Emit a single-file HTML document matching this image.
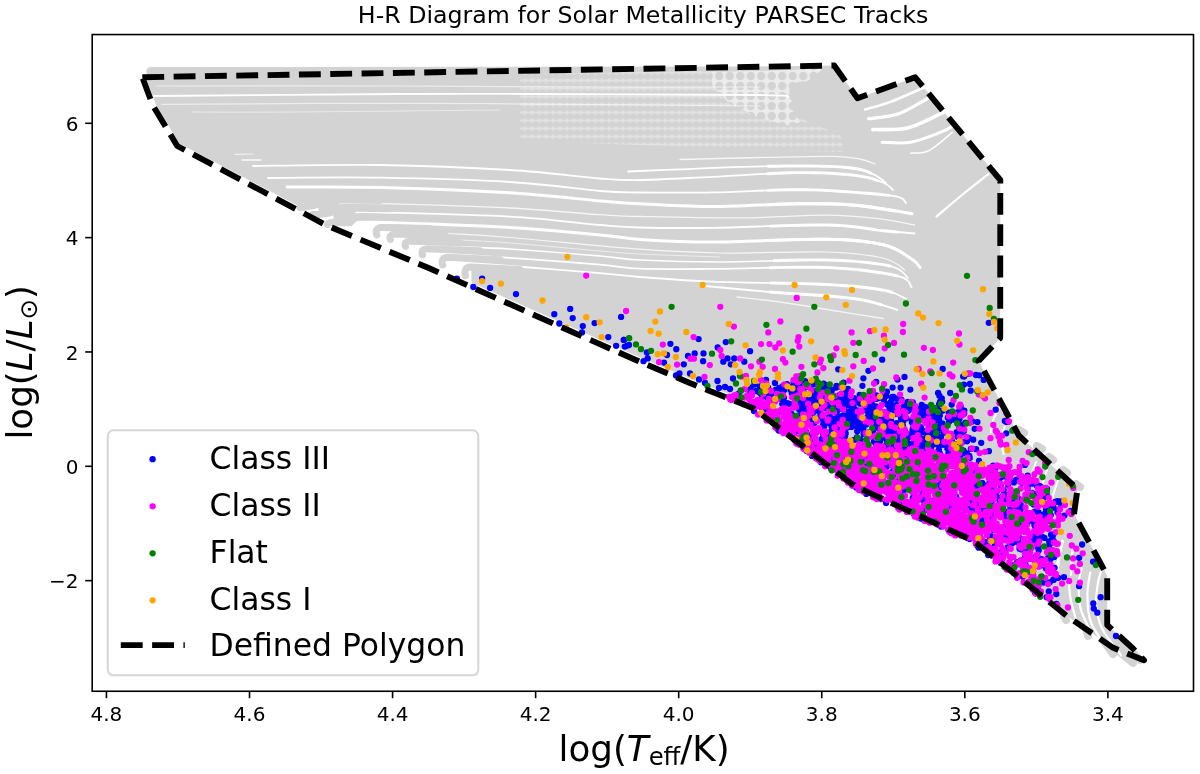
<!DOCTYPE html><html><head><meta charset="utf-8"><title>H-R Diagram</title><style>html,body{margin:0;padding:0;background:#fff;overflow:hidden}svg{display:block;-webkit-font-smoothing:antialiased;will-change:transform}</style></head><body><svg width="1200" height="774" viewBox="0 0 1200 774" font-family="'DejaVu Sans', 'Liberation Sans', sans-serif" fill="#000"><polygon points="145.8,77.2 834.2,65.5 857.5,98.3 915.2,77.3 1000.3,180.0 1000.2,338.0 978.6,361.0 1019.0,435.8 1077.5,489.0 1074.0,514.0 1102.0,566.0 1107.2,576.0 1107.2,625.0 1133.0,648.5 1144.0,660.3 1112.8,647.6 1067.3,616.3 973.6,541.0 854.6,486.0 753.8,404.0 689.2,378.2 637.5,356.2 570.7,326.8 428.7,263.5 327.0,221.1 179.3,143.5 156.1,105.0" fill="#d3d3d3"/>
<path d="M150.5 71.4L830 70.6" stroke="#d3d3d3" stroke-width="8.6" stroke-linecap="round"/>
<polygon points="150,71 834,68 834,78 150,82" fill="#d3d3d3"/>
<path d="M1019.0 430.0L1024.0 433.0" stroke="#d3d3d3" stroke-width="8" fill="none" stroke-linecap="round"/>
<path d="M1037.0 446.0L1042.0 449.0" stroke="#d3d3d3" stroke-width="8" fill="none" stroke-linecap="round"/>
<path d="M1049.0 457.0L1053.0 460.0" stroke="#d3d3d3" stroke-width="8" fill="none" stroke-linecap="round"/>
<path d="M1063.0 470.0L1067.0 473.0" stroke="#d3d3d3" stroke-width="8" fill="none" stroke-linecap="round"/>
<path d="M1076.0 484.0L1080.0 487.0" stroke="#d3d3d3" stroke-width="8" fill="none" stroke-linecap="round"/>
<path d="M1062.0 605.0C1062.3 606.8 1063.3 613.5 1064.0 616.0C1064.7 618.5 1065.7 619.3 1066.0 620.0" stroke="#d3d3d3" stroke-width="8" fill="none" stroke-linecap="round"/>
<path d="M1085.0 625.0L1088.0 636.0" stroke="#d3d3d3" stroke-width="8" fill="none" stroke-linecap="round"/>
<path d="M1103.0 640.0L1113.0 654.0" stroke="#d3d3d3" stroke-width="8" fill="none" stroke-linecap="round"/>
<path d="M1115.0 648.0L1133.0 663.0" stroke="#d3d3d3" stroke-width="8" fill="none" stroke-linecap="round"/>
<path d="M1135.0 655.0L1140.0 660.0" stroke="#d3d3d3" stroke-width="8" fill="none" stroke-linecap="round"/>
<defs><pattern id="pd" x="0" y="1" width="10.5" height="10" patternUnits="userSpaceOnUse"><rect width="10.5" height="10" fill="#ececec"/><circle cx="5.25" cy="5" r="4.2" fill="#d3d3d3"/></pattern><pattern id="pr" x="0" y="0.5" width="7" height="8" patternUnits="userSpaceOnUse"><rect width="7" height="8" fill="#e2e2e2"/><ellipse cx="3.5" cy="4" rx="3.7" ry="3.2" fill="#d3d3d3"/></pattern></defs>
<polygon points="520,74 700,71 720,71 760,100 800,118 840,135 845,152 760,150 660,146 560,142 520,138" fill="url(#pr)"/>
<polygon points="712,72 790,70 824,68 812,78 796,88 790,106 800,122 790,126 760,118 730,104 712,86" fill="url(#pd)"/>
<ellipse cx="822" cy="104" rx="36" ry="17" transform="rotate(28 822 104)" fill="#d3d3d3"/>
<path d="M253.0 166.0C274.2 165.8 337.2 164.3 380.0 165.0C422.8 165.7 473.3 167.8 510.0 170.0C546.7 172.2 578.3 176.8 600.0 178.5C621.7 180.2 621.2 180.3 640.0 180.0C658.8 179.7 686.7 178.0 713.0 176.8C739.3 175.6 774.3 172.8 798.0 172.6C821.7 172.4 840.8 173.8 855.0 175.4C869.2 177.1 876.7 180.1 883.0 182.5C889.3 184.9 891.3 188.8 893.0 190.0" stroke="#fff" stroke-width="1.8" fill="none" stroke-linecap="round"/>
<path d="M268.0 178.0C286.7 177.9 339.7 177.0 380.0 177.7C420.3 178.4 473.3 179.8 510.0 182.0C546.7 184.2 578.3 189.2 600.0 191.0C621.7 192.8 621.2 192.3 640.0 192.5C658.8 192.7 686.7 192.9 713.0 192.4C739.3 191.9 774.3 189.6 798.0 189.6C821.7 189.6 838.5 191.2 855.0 192.4C871.5 193.6 888.5 194.9 897.0 196.7C905.5 198.5 904.5 201.9 906.0 203.0" stroke="#fff" stroke-width="1.8" fill="none" stroke-linecap="round"/>
<path d="M287.0 187.0C302.5 187.1 342.8 186.4 380.0 187.4C417.2 188.4 473.3 190.6 510.0 192.8C546.7 195.1 578.3 199.1 600.0 200.9C621.7 202.7 621.2 202.8 640.0 203.7C658.8 204.6 686.7 206.6 713.0 206.6C739.3 206.6 774.3 204.0 798.0 203.8C821.7 203.6 836.0 203.5 855.0 205.2C874.0 206.8 902.5 212.3 912.0 213.7" stroke="#fff" stroke-width="3.0" fill="none" stroke-linecap="round"/>
<path d="M340.0 203.5C346.7 203.5 351.7 202.9 380.0 203.7C408.3 204.4 473.3 206.2 510.0 208.0C546.7 209.8 578.3 213.3 600.0 214.7C621.7 216.1 616.4 216.0 640.0 216.5C663.6 217.0 710.6 218.1 741.7 217.9C772.8 217.7 803.1 214.9 826.7 215.1C850.3 215.3 868.8 217.7 883.4 219.3C898.0 221.0 909.3 224.1 914.5 225.0" stroke="#fff" stroke-width="1.3" stroke-opacity="0.8" fill="none" stroke-linecap="round"/>
<path d="M356.0 212.3C360.0 212.3 354.3 211.8 380.0 212.5C405.7 213.2 473.3 214.6 510.0 216.7C546.7 218.8 578.3 223.2 600.0 225.0C621.7 226.8 621.2 227.0 640.0 227.5C658.8 228.0 681.9 228.2 713.0 227.8C744.1 227.4 798.3 224.5 826.7 225.0C855.1 225.5 868.8 229.3 883.4 230.7C898.0 232.1 909.3 233.0 914.5 233.5" stroke="#fff" stroke-width="1.8" fill="none" stroke-linecap="round"/>
<path d="M371.0 221.8C372.5 221.9 356.8 221.2 380.0 222.2C403.2 223.1 473.3 225.4 510.0 227.5C546.7 229.6 578.3 232.9 600.0 234.9C621.7 236.9 621.2 238.2 640.0 239.4C658.8 240.6 681.9 242.0 713.0 242.0C744.1 242.0 798.3 238.7 826.7 239.2C855.1 239.7 869.2 241.5 883.4 244.8C897.6 248.1 905.6 255.2 911.7 259.0C917.8 262.8 918.6 266.1 920.0 267.5" stroke="#fff" stroke-width="3.0" fill="none" stroke-linecap="round"/>
<path d="M386.0 230.8C396.7 231.2 429.3 232.4 450.0 233.5C470.7 234.6 478.3 234.9 510.0 237.5C541.7 240.1 605.0 246.6 640.0 249.2C675.0 251.8 689.0 252.5 720.0 253.0C751.0 253.5 798.8 251.2 826.0 252.0C853.2 252.8 869.8 255.0 883.0 258.0C896.2 261.0 901.3 268.0 905.0 270.0" stroke="#fff" stroke-width="1.2" stroke-opacity="0.8" fill="none" stroke-linecap="round"/>
<path d="M401.0 237.6C409.2 237.9 431.8 238.6 450.0 239.5C468.2 240.4 485.0 241.1 510.0 243.0C535.0 244.9 578.3 249.2 600.0 251.0C621.7 252.8 620.0 253.0 640.0 254.0C660.0 255.0 706.7 256.5 720.0 257.0" stroke="#fff" stroke-width="1.0" stroke-opacity="0.6" fill="none" stroke-linecap="round"/>
<path d="M418.0 245.0C423.3 245.2 434.7 245.8 450.0 246.5C465.3 247.2 485.0 247.4 510.0 249.0C535.0 250.6 578.3 254.2 600.0 256.0C621.7 257.8 620.0 259.0 640.0 260.0C660.0 261.0 689.0 262.0 720.0 262.0C751.0 262.0 797.7 259.3 826.0 260.0C854.3 260.7 876.3 263.0 890.0 266.0C903.7 269.0 905.0 276.0 908.0 278.0" stroke="#fff" stroke-width="1.6" fill="none" stroke-linecap="round"/>
<path d="M438.0 253.2C450.0 254.0 483.0 255.9 510.0 257.8C537.0 259.7 578.3 262.9 600.0 264.7C621.7 266.5 621.2 268.0 640.0 268.7C658.8 269.4 681.9 269.1 713.0 268.9C744.1 268.7 796.0 266.3 826.7 267.5C857.5 268.7 883.3 272.7 897.5 276.0C911.7 279.3 909.3 285.4 911.7 287.3" stroke="#fff" stroke-width="1.8" fill="none" stroke-linecap="round"/>
<path d="M461.0 262.3C469.2 262.9 486.8 264.2 510.0 266.0C533.2 267.8 578.3 271.4 600.0 273.2C621.7 275.0 621.2 275.6 640.0 277.0C658.8 278.4 681.9 280.4 713.0 281.7C744.1 282.9 798.3 283.1 826.7 284.5C855.1 285.9 870.2 287.8 883.4 290.2C896.6 292.6 902.2 297.3 906.0 298.7" stroke="#fff" stroke-width="1.8" fill="none" stroke-linecap="round"/>
<path d="M700.0 285.5C711.7 286.6 744.2 289.8 770.0 292.0C795.8 294.2 833.8 295.7 855.0 298.7C876.2 301.7 890.4 308.1 897.5 310.0" stroke="#fff" stroke-width="1.8" fill="none" stroke-linecap="round"/>
<path d="M737.0 297.0C744.2 297.8 764.5 299.8 780.0 302.0C795.5 304.2 812.8 307.2 830.0 310.0C847.2 312.8 874.5 317.1 883.4 318.5" stroke="#fff" stroke-width="1.4" stroke-opacity="0.75" fill="none" stroke-linecap="round"/>
<path d="M154.0 96.0C195.0 95.7 337.3 94.3 400.0 94.0C462.7 93.7 470.0 93.8 530.0 94.0C590.0 94.2 717.0 94.4 760.0 95.0C803.0 95.6 783.3 97.1 788.0 97.5" stroke="#fff" stroke-width="1.8" fill="none" stroke-linecap="round"/>
<path d="M157.0 86.0C197.5 86.0 326.2 85.8 400.0 86.0C473.8 86.2 540.0 86.8 600.0 87.0C660.0 87.2 733.3 87.0 760.0 87.0" stroke="#fff" stroke-width="1.2" stroke-opacity="0.6" fill="none" stroke-linecap="round"/>
<path d="M162.0 104.4C201.7 104.2 318.7 103.2 400.0 103.3C481.3 103.4 590.0 104.5 650.0 105.0C710.0 105.5 741.7 105.8 760.0 106.0" stroke="#fff" stroke-width="1.2" stroke-opacity="0.6" fill="none" stroke-linecap="round"/>
<path d="M192.0 112.0C208.7 112.0 240.7 112.3 292.0 112.0C343.3 111.7 465.3 110.3 500.0 110.0" stroke="#fff" stroke-width="1.0" stroke-opacity="0.5" fill="none" stroke-linecap="round"/>
<path d="M235.0 154.3L253.0 154.0" stroke="#fff" stroke-width="1.2" stroke-opacity="0.7" fill="none" stroke-linecap="round"/>
<path d="M242.0 160.0L261.0 160.0" stroke="#fff" stroke-width="1.4" stroke-opacity="0.9" fill="none" stroke-linecap="round"/>
<path d="M865.2 109.5C869.4 108.2 880.6 105.6 890.4 101.9C900.2 98.2 918.4 90.0 924.0 87.6" stroke="#fff" stroke-width="2.6" fill="none" stroke-linecap="round"/>
<path d="M868.6 118.7C873.6 117.9 889.0 117.1 898.8 113.7C908.6 110.3 922.6 101.1 927.4 98.6" stroke="#fff" stroke-width="3.2" fill="none" stroke-linecap="round"/>
<path d="M872.8 129.6C878.5 129.3 895.9 130.7 907.2 128.0C918.5 125.3 933.8 116.7 940.8 113.7C947.8 110.8 947.8 110.9 949.2 110.3" stroke="#fff" stroke-width="3.6" fill="none" stroke-linecap="round"/>
<path d="M882.0 142.2C886.8 142.2 900.8 143.9 910.6 142.2C920.4 140.5 933.5 135.0 940.8 132.2C948.1 129.4 952.0 126.5 954.2 125.4" stroke="#fff" stroke-width="3.0" fill="none" stroke-linecap="round"/>
<path d="M910.6 153.2C913.7 152.8 922.0 154.1 929.0 150.6C936.0 147.1 948.6 135.3 952.5 132.2" stroke="#fff" stroke-width="1.5" fill="none" stroke-linecap="round"/>
<path d="M936.5 216.5C940.8 212.9 953.3 202.1 962.0 195.0C970.7 187.9 984.1 177.5 988.5 174.0" stroke="#fff" stroke-width="2.2" fill="none" stroke-linecap="round"/>
<path d="M628.0 171.5C636.7 171.1 661.0 170.1 680.0 169.3C699.0 168.5 720.0 167.5 741.7 166.9C763.4 166.3 791.5 165.8 810.0 166.0C828.5 166.2 842.2 166.7 853.0 168.2C863.8 169.7 869.5 172.5 875.0 175.0C880.5 177.5 884.2 181.9 886.0 183.3" stroke="#fff" stroke-width="1.8" fill="none" stroke-linecap="round"/>
<path d="M680.0 159.5C693.3 159.2 734.7 158.0 760.0 157.5C785.3 157.0 815.0 156.1 831.7 156.3C848.4 156.6 852.8 157.7 860.0 159.0C867.2 160.3 872.5 163.2 875.0 164.0" stroke="#fff" stroke-width="1.3" stroke-opacity="0.8" fill="none" stroke-linecap="round"/>
<path d="M1001.6 405.2C1000.3 407.3 995.8 413.5 994.0 418.0C992.2 422.5 991.2 429.9 990.7 432.3" stroke="#fff" stroke-width="2.0" fill="none" stroke-linecap="round"/>
<path d="M1010.6 414.0C1009.1 417.7 1002.8 429.3 1001.6 436.0C1000.4 442.7 1003.1 451.0 1003.4 454.0" stroke="#fff" stroke-width="2.0" fill="none" stroke-linecap="round"/>
<path d="M1062.5 541.0C1061.9 543.5 1059.9 550.8 1059.0 556.0C1058.1 561.2 1057.3 569.3 1057.0 572.0" stroke="#fff" stroke-width="3.0" fill="none" stroke-linecap="round"/>
<path d="M1073.0 547.0C1072.8 549.2 1071.8 555.3 1071.5 560.0C1071.2 564.7 1071.1 572.5 1071.0 575.0" stroke="#fff" stroke-width="2.2" fill="none" stroke-linecap="round"/>
<path d="M1041.5 538.0L1040.5 548.0" stroke="#fff" stroke-width="2.0" fill="none" stroke-linecap="round"/>
<path d="M1036.0 462.0C1035.0 465.0 1031.2 473.7 1030.0 480.0C1028.8 486.3 1028.5 493.3 1029.0 500.0C1029.5 506.7 1032.3 516.7 1033.0 520.0" stroke="#fff" stroke-width="2.0" fill="none" stroke-linecap="round"/>
<path d="M1047.0 470.0C1046.0 473.3 1042.2 483.3 1041.0 490.0C1039.8 496.7 1039.5 503.3 1040.0 510.0C1040.5 516.7 1043.3 526.7 1044.0 530.0" stroke="#fff" stroke-width="2.0" fill="none" stroke-linecap="round"/>
<path d="M1058.0 480.0C1057.0 483.3 1053.2 493.3 1052.0 500.0C1050.8 506.7 1051.2 516.7 1051.0 520.0" stroke="#fff" stroke-width="2.0" fill="none" stroke-linecap="round"/>
<path d="M1069.0 583.9C1069.3 586.8 1069.4 593.9 1071.0 601.3C1072.6 608.7 1077.4 623.9 1078.7 628.4" stroke="#fff" stroke-width="2.2" fill="none" stroke-linecap="round"/>
<path d="M1081.6 568.4C1081.1 571.0 1078.8 577.1 1078.7 583.9C1078.6 590.7 1078.6 601.0 1080.7 609.1C1082.8 617.2 1089.5 628.4 1091.3 632.3" stroke="#fff" stroke-width="2.2" fill="none" stroke-linecap="round"/>
<path d="M1090.3 572.3C1089.8 575.8 1087.4 585.5 1087.4 593.6C1087.4 601.7 1087.5 612.3 1090.3 620.7C1093.0 629.1 1101.6 640.0 1103.9 643.9" stroke="#fff" stroke-width="2.2" fill="none" stroke-linecap="round"/>
<path d="M1102.0 568.4C1101.3 570.7 1099.1 575.9 1098.1 582.0C1097.1 588.1 1095.5 597.5 1096.2 605.2C1096.9 612.9 1097.8 620.0 1102.0 628.4C1106.2 636.8 1118.1 651.1 1121.3 655.6" stroke="#fff" stroke-width="2.2" fill="none" stroke-linecap="round"/>
<path d="M767.6 173.7L778.4 173.2L788.6 172.8L798.0 172.6L806.7 172.6L814.9 172.7L822.7 172.9L830.1 173.3L837.0 173.7L843.4 174.2L849.5 174.8L855.0 175.4L860.0 176.1L864.5 176.9L868.4 177.7L871.9 178.7L875.1 179.6L877.9 180.6" stroke="#fff" stroke-width="2.9" fill="none" stroke-linecap="round"/>
<path d="M767.6 190.4L778.4 190.0L788.6 189.7L798.0 189.6L806.6 189.7L814.6 189.9L822.1 190.2L829.2 190.6L836.0 191.0L842.5 191.5L848.8 191.9L855.0 192.4L861.2 192.9L867.3 193.3L873.3 193.8L879.0 194.3L884.3 194.9L889.2 195.4" stroke="#fff" stroke-width="2.9" fill="none" stroke-linecap="round"/>
<path d="M767.6 204.8L778.4 204.3L788.6 204.0L798.0 203.8L806.5 203.7L814.2 203.7L821.4 203.7L828.2 203.8L834.9 204.0L841.4 204.3L848.1 204.7L855.0 205.2L862.5 206.0L870.6 207.0L878.9 208.2L887.1 209.5L894.8 210.8" stroke="#fff" stroke-width="2.9" fill="none" stroke-linecap="round"/>
<path d="M770.9 226.1L786.4 225.6L801.3 225.2L814.9 225.0L826.7 225.0L836.7 225.3L845.5 225.9L853.3 226.6L860.2 227.5L866.5 228.4L872.4 229.3L877.9 230.1L883.4 230.7L888.7 231.2L893.7 231.7L898.3 232.1" stroke="#fff" stroke-width="2.9" fill="none" stroke-linecap="round"/>
<path d="M770.9 240.4L786.4 239.9L801.3 239.4L814.9 239.2L826.7 239.2L836.7 239.4L845.5 239.8L853.4 240.3L860.4 240.9L866.7 241.7L872.6 242.6L878.1 243.6L883.4 244.8L888.4 246.2L892.9 247.9L897.0 249.7L900.6 251.7L903.8 253.7" stroke="#fff" stroke-width="2.9" fill="none" stroke-linecap="round"/>
<path d="M774.0 260.8L788.2 260.3L801.8 260.0L814.6 259.9L826.0 260.0L836.3 260.3L846.0 260.8L855.1 261.4L863.5 262.1L871.2 263.0L878.2 263.9L884.5 264.9L890.0 266.0" stroke="#fff" stroke-width="2.9" fill="none" stroke-linecap="round"/>
<path d="M770.0 267.7L785.4 267.4L800.3 267.2L814.3 267.2L826.7 267.5L838.0 268.1L848.7 268.9L858.9 269.8L868.3 271.0L877.0 272.2L884.8 273.4L891.7 274.7L897.5 276.0" stroke="#fff" stroke-width="2.9" fill="none" stroke-linecap="round"/>
<path d="M770.9 283.0L786.4 283.3L801.3 283.6L814.9 284.0L826.7 284.5L836.7 285.1L845.7 285.7L853.6 286.3L860.7 287.0L867.1 287.7L873.0 288.5L878.3 289.3L883.4 290.2L888.0 291.2L892.0 292.3" stroke="#fff" stroke-width="2.9" fill="none" stroke-linecap="round"/>
<path d="M770.0 292.0L780.2 292.8L791.2 293.6L802.6 294.3L814.2 295.0L825.6 295.8L836.4 296.7L846.3 297.6L855.0 298.7L862.6 300.0L869.6 301.5L875.9 303.1L881.6 304.8" stroke="#fff" stroke-width="2.9" fill="none" stroke-linecap="round"/>
<path d="M767.9 166.3L777.0 166.2L786.0 166.0L794.5 166.0L802.6 166.0L810.0 166.0L816.7 166.1L823.0 166.2L828.9 166.4L834.4 166.6L839.5 166.9L844.3 167.3L848.8 167.7L853.0 168.2L856.8 168.8L860.2 169.5L863.3 170.3L866.0 171.2L868.5 172.1L870.8 173.1" stroke="#fff" stroke-width="2.9" fill="none" stroke-linecap="round"/>
<polygon points="301.5,203.7 303.0,203.7 304.6,203.7 306.1,203.7 307.7,203.7 309.2,203.7 310.8,203.7 312.3,203.7 313.9,203.7 315.4,203.7 317.0,203.7 318.5,203.7 318.5,224.6 301.5,215.5" fill="#fff"/>
<polygon points="314.0,211.7 315.8,211.7 317.5,211.7 319.3,211.7 321.1,211.7 322.9,211.7 324.6,211.7 326.4,211.7 328.2,211.7 330.0,211.7 331.7,211.7 333.5,211.7 333.5,231.8 314.0,222.2" fill="#fff"/>
<polygon points="329.0,225.7 333.9,225.7 338.8,225.8 343.7,225.9 348.6,226.0 353.5,222.4 358.3,220.5 363.2,220.2 368.1,220.3 373.0,220.4 377.9,220.5 382.8,220.6 382.8,252.4 329.0,229.9" fill="#fff"/>
<polygon points="378.3,230.6 379.9,230.6 381.6,230.6 383.2,230.7 384.9,230.7 386.5,230.7 388.2,230.8 389.8,230.8 391.5,230.9 393.1,230.9 394.8,230.9 396.4,231.0 396.4,258.0 378.3,250.5" fill="#fff"/>
<polygon points="391.9,237.2 393.7,237.2 395.5,237.2 397.2,237.3 399.0,237.3 400.8,237.4 402.6,237.4 404.4,237.5 406.2,237.5 407.9,237.6 409.7,237.6 411.5,237.7 411.5,264.3 391.9,256.2" fill="#fff"/>
<polygon points="407.0,244.2 409.0,244.2 410.9,244.2 412.9,244.3 414.8,244.4 416.8,244.4 418.7,244.5 420.7,244.6 422.6,244.7 424.6,244.7 426.5,244.8 428.5,244.9 428.5,271.4 407.0,262.5" fill="#fff"/>
<polygon points="424.0,251.9 426.2,251.9 428.5,252.0 430.7,252.0 433.0,252.1 435.2,252.2 437.5,252.3 439.7,252.4 442.0,252.5 444.2,252.6 446.5,252.7 448.7,252.8 448.7,280.4 424.0,269.5" fill="#fff"/>
<polygon points="444.2,260.5 446.7,260.5 449.1,260.6 451.6,260.7 454.1,260.8 456.6,261.0 459.0,261.1 461.5,261.2 464.0,261.3 466.5,261.4 468.9,261.5 471.4,261.7 471.4,290.5 444.2,278.4" fill="#fff"/>
<path d="M300.0 207.5Q318.0 206.5 323.0 200.5L330.0 199.7L380.0 200.5" stroke="#d3d3d3" stroke-width="7.0" fill="none" stroke-linecap="round" stroke-linejoin="round"/>
<path d="M312.5 214.5Q333.0 214.5 338.0 208.5L344.0 207.9L390.0 208.8" stroke="#d3d3d3" stroke-width="7.0" fill="none" stroke-linecap="round" stroke-linejoin="round"/>
<path d="M327.5 224.5Q328.0 222.6 333.0 222.5L350.0 222.8L355.0 217.6L361.0 217.0L410.0 217.8" stroke="#d3d3d3" stroke-width="7.0" fill="none" stroke-linecap="round" stroke-linejoin="round"/>
<path d="M376.8 235.0Q374.5 228.5 381.0 227.4L430.0 228.6" stroke="#d3d3d3" stroke-width="7.0" fill="none" stroke-linecap="round" stroke-linejoin="round"/>
<path d="M390.4 239.5Q388.5 234.6 395.0 234.0L445.0 235.5" stroke="#d3d3d3" stroke-width="7.0" fill="none" stroke-linecap="round" stroke-linejoin="round"/>
<path d="M405.5 246.5Q403.5 241.6 410.0 241.0L460.0 242.8" stroke="#d3d3d3" stroke-width="7.0" fill="none" stroke-linecap="round" stroke-linejoin="round"/>
<path d="M422.5 255.0Q420.5 249.4 427.0 248.7L480.0 250.8" stroke="#d3d3d3" stroke-width="7.0" fill="none" stroke-linecap="round" stroke-linejoin="round"/>
<path d="M442.7 265.0Q440.7 258.0 447.0 257.3L500.0 259.8" stroke="#d3d3d3" stroke-width="7.0" fill="none" stroke-linecap="round" stroke-linejoin="round"/>
<path d="M465.4 275.7Q463.4 267.7 470.0 267.0L520.0 269.5" stroke="#d3d3d3" stroke-width="7.0" fill="none" stroke-linecap="round" stroke-linejoin="round"/>
<path d="M987.1 509.2h0M866.9 466.9h0M880.7 396.6h0M935.4 467.0h0M973.7 482.5h0M989.6 482.8h0M1017.0 493.8h0M926.6 407.4h0M869.9 399.0h0M1027.8 513.2h0M964.2 413.6h0M903.3 421.0h0M773.9 399.1h0M914.7 495.5h0M851.8 452.8h0M921.4 455.7h0M1052.5 538.1h0M1024.7 530.2h0M766.5 405.8h0M866.4 424.4h0M909.4 511.1h0M799.0 398.8h0M1038.4 512.2h0M998.7 498.9h0M921.5 453.4h0M917.9 467.4h0M770.4 392.4h0M828.0 390.5h0M875.2 464.6h0M979.6 488.6h0M887.9 488.9h0M958.2 518.8h0M823.1 424.9h0M940.1 401.6h0M1017.2 562.2h0M892.4 438.4h0M1048.8 557.9h0M926.4 445.5h0M1048.1 557.8h0M777.6 429.0h0M1020.3 511.0h0M795.5 399.0h0M879.6 429.4h0M886.5 428.0h0M783.7 402.8h0M1022.5 564.2h0M807.9 397.3h0M995.7 409.7h0M754.4 384.6h0M875.8 443.7h0M825.3 385.0h0M935.6 475.1h0M917.1 464.2h0M1019.5 548.7h0M1007.7 526.2h0M859.7 394.9h0M915.6 441.5h0M913.8 477.0h0M949.9 519.3h0M990.0 539.0h0M869.3 407.4h0M877.2 449.7h0M864.3 418.2h0M868.5 396.0h0M937.8 431.7h0M1011.1 493.3h0M1004.9 421.0h0M1006.2 422.0h0M936.2 494.1h0M1033.1 571.1h0M913.8 438.4h0M964.2 376.6h0M866.5 450.6h0M870.7 399.3h0M1003.8 493.3h0M950.2 393.0h0M986.9 544.4h0M956.1 496.6h0M883.7 430.8h0M805.9 385.5h0M991.0 536.3h0M978.7 547.7h0M772.5 406.2h0M897.2 492.9h0M877.6 456.4h0M904.4 405.4h0M834.9 443.9h0M836.0 459.5h0M805.4 387.2h0M830.5 408.5h0M969.2 529.1h0M842.8 417.3h0M845.3 421.0h0M782.9 386.1h0M1037.2 496.2h0M1020.7 560.7h0M841.8 437.0h0M956.6 523.5h0M823.6 423.5h0M824.8 394.6h0M823.2 434.5h0M844.2 398.0h0M849.9 405.6h0M998.6 559.9h0M950.6 457.5h0M875.1 427.7h0M784.2 390.0h0M889.7 454.9h0M956.8 478.3h0M869.8 406.5h0M932.2 439.1h0M903.4 494.1h0M863.4 446.6h0M765.5 407.5h0M993.1 488.6h0M878.6 494.0h0M896.1 469.0h0M953.9 487.2h0M884.8 436.7h0M930.1 433.7h0M802.2 428.9h0M1038.7 535.7h0M857.0 458.7h0M878.0 397.2h0M965.3 483.8h0M851.7 418.4h0M890.8 456.8h0M795.5 389.5h0M847.2 427.5h0M1021.7 482.8h0M841.1 430.6h0M811.8 394.6h0M900.5 489.1h0M860.7 403.0h0M898.2 484.3h0M959.3 528.9h0M948.7 446.0h0M1020.3 526.0h0M833.1 408.6h0M989.4 522.0h0M940.7 503.8h0M806.0 436.3h0M798.1 395.4h0M824.4 408.2h0M1006.4 499.6h0M915.7 431.6h0M901.3 462.4h0M885.8 412.9h0M971.2 497.5h0M951.5 442.1h0M920.7 518.6h0M936.0 501.3h0M827.5 387.3h0M987.8 470.3h0M889.3 405.4h0M1006.3 523.2h0M1064.4 515.6h0M1034.4 542.4h0M919.6 511.8h0M798.4 408.4h0M913.4 465.9h0M804.2 418.5h0M847.4 427.3h0M899.7 470.8h0M964.3 410.6h0M782.3 404.1h0M969.7 457.9h0M834.4 462.4h0M925.5 432.7h0M1015.9 508.4h0M952.9 413.7h0M845.7 433.4h0M888.5 423.1h0M1035.4 557.0h0M992.4 467.9h0M893.1 471.0h0M890.4 416.1h0M931.3 446.7h0M880.3 423.1h0M907.7 404.8h0M1011.6 520.3h0M831.7 418.5h0M886.6 466.1h0M836.1 405.1h0M966.6 471.2h0M962.1 484.6h0M1027.3 547.9h0M939.2 509.0h0M990.2 511.0h0M853.7 404.4h0M933.5 417.9h0M869.0 432.4h0M1012.3 543.3h0M816.2 399.1h0M845.3 405.0h0M871.9 459.4h0M1050.8 515.1h0M877.4 438.6h0M935.0 437.4h0M922.7 438.8h0M897.5 379.6h0M843.1 472.9h0M889.8 486.1h0M1013.9 482.4h0M843.0 415.3h0M902.0 424.8h0M837.9 431.8h0M1010.4 507.5h0M861.1 411.9h0M970.0 496.8h0M799.7 401.2h0M890.1 426.2h0M849.2 402.6h0M854.4 481.7h0M836.2 387.5h0M924.6 458.7h0M837.1 396.8h0M836.1 455.2h0M796.2 440.7h0M775.7 389.9h0M811.7 442.0h0M930.5 471.6h0M940.2 520.6h0M929.4 441.9h0M833.4 455.2h0M928.3 456.2h0M863.6 433.9h0M919.0 409.0h0M805.0 439.1h0M921.7 404.8h0M950.1 433.8h0M1057.7 501.2h0M866.3 493.9h0M928.2 411.8h0M894.6 451.0h0M908.3 410.8h0M886.7 466.7h0M826.5 400.9h0M916.5 432.0h0M1037.9 586.9h0M1015.7 505.3h0M910.3 389.6h0M966.6 439.1h0M891.2 424.1h0M951.0 464.7h0M771.0 410.6h0M841.3 467.4h0M880.0 441.5h0M922.1 484.4h0M995.5 506.9h0M925.5 443.9h0M944.0 432.7h0M964.8 536.2h0M945.4 428.4h0M894.4 410.7h0M905.7 411.5h0M927.1 510.1h0M898.9 436.2h0M1046.0 509.3h0M928.3 421.7h0M891.7 443.3h0M813.5 401.4h0M1001.6 497.1h0M931.0 463.4h0M994.1 523.1h0M807.2 445.0h0M817.3 382.6h0M943.2 442.1h0M1025.5 564.8h0M916.3 442.2h0M834.1 467.2h0M912.5 420.5h0M983.2 500.8h0M888.2 437.3h0M938.7 480.8h0M790.7 389.9h0M977.4 545.7h0M957.8 435.0h0M857.5 399.9h0M1002.7 548.8h0M957.5 412.3h0M912.5 430.1h0M877.5 424.9h0M823.9 422.7h0M959.9 517.0h0M925.4 438.8h0M1041.2 488.2h0M820.4 413.9h0M960.1 409.5h0M1012.7 499.0h0M779.2 424.2h0M990.1 484.6h0M964.0 384.6h0M1032.6 513.5h0M1051.8 572.1h0M845.3 421.9h0M918.8 427.0h0M929.5 489.9h0M795.3 394.1h0M776.4 415.0h0M1032.2 481.7h0M831.9 425.5h0M949.1 445.0h0M796.6 388.2h0M812.8 384.5h0M937.5 433.6h0M896.2 477.2h0M992.5 483.5h0M1035.4 527.1h0M857.0 415.4h0M995.4 467.5h0M886.0 413.2h0M843.2 400.7h0M1052.1 570.8h0M1015.4 522.6h0M923.9 519.9h0M842.9 393.8h0M817.6 410.7h0M979.1 536.0h0M1007.7 547.4h0M855.6 477.8h0M1027.6 550.7h0M836.7 418.5h0M896.6 433.8h0M797.6 431.1h0M853.5 478.8h0M979.2 375.3h0M871.5 411.1h0M994.0 481.4h0M929.9 504.2h0M994.8 513.1h0M935.0 415.5h0M919.7 457.6h0M931.9 424.7h0M899.2 442.6h0M936.1 513.2h0M965.4 462.2h0M840.9 437.4h0M889.5 409.4h0M962.2 425.5h0M814.3 396.5h0M815.5 452.6h0M1000.6 555.9h0M961.9 488.7h0M967.3 537.4h0M850.4 426.9h0M810.6 409.6h0M1021.6 540.5h0M1044.4 497.6h0M959.2 415.2h0M761.8 397.2h0M984.1 516.4h0M816.0 445.6h0M804.5 393.3h0M918.3 462.5h0M860.9 440.9h0M981.3 525.6h0M1016.6 479.7h0M837.0 440.8h0M806.8 408.2h0M990.9 477.7h0M807.3 407.2h0M990.2 548.5h0M984.9 510.1h0M988.2 555.0h0M1016.5 523.7h0M1012.1 497.8h0M890.3 431.2h0M813.8 391.1h0M879.5 483.1h0M888.4 434.5h0M890.1 438.5h0M1013.4 537.7h0M959.9 409.7h0M921.1 432.3h0M983.2 502.2h0M829.6 405.9h0M876.2 381.8h0M906.3 439.2h0M939.6 439.7h0M990.9 476.6h0M981.1 545.1h0M902.9 425.7h0M801.1 401.1h0M894.0 436.0h0M941.7 509.6h0M821.8 389.2h0M929.6 427.1h0M915.9 427.8h0M802.5 404.3h0M850.6 463.7h0M827.1 433.4h0M1004.0 494.9h0M987.1 509.7h0M831.7 461.3h0M864.7 433.6h0M858.0 470.3h0M940.4 424.0h0M873.2 491.7h0M968.7 437.9h0M863.9 433.7h0M821.4 406.8h0M833.9 437.3h0M949.6 489.2h0M1000.6 475.5h0M919.5 436.7h0M1017.6 564.1h0M997.0 490.9h0M982.2 483.0h0M882.6 487.5h0M934.2 486.7h0M796.8 407.0h0M896.9 423.1h0M1029.3 520.9h0M871.4 418.5h0M910.6 479.3h0M913.3 436.9h0M953.8 463.2h0M982.7 524.9h0M1045.1 513.3h0M873.9 441.6h0M831.5 393.3h0M932.0 422.8h0M903.4 436.8h0M1049.5 505.3h0M1061.0 501.3h0M994.8 545.8h0M841.3 402.2h0M982.8 485.1h0M873.1 416.4h0M981.7 540.4h0M940.1 425.4h0M897.2 427.9h0M873.1 435.9h0M1041.0 582.3h0M926.3 477.5h0M970.7 390.7h0M962.1 442.3h0M949.9 496.5h0M1020.7 505.0h0M766.4 404.3h0M829.8 437.2h0M806.2 432.0h0M830.1 392.0h0M812.4 420.8h0M1038.4 593.6h0M760.5 393.2h0M971.8 477.5h0M903.3 490.3h0M937.9 428.8h0M865.5 441.3h0M800.8 397.5h0M1008.1 421.8h0M813.2 397.0h0M740.7 390.8h0M816.3 403.3h0M1005.8 514.4h0M969.9 384.0h0M972.3 475.3h0M809.6 385.2h0M837.9 400.5h0M807.1 398.0h0M872.9 393.3h0M1000.9 474.7h0M811.9 438.4h0M903.4 431.6h0M950.5 508.1h0M845.1 415.9h0M1003.6 538.0h0M831.5 426.1h0M731.0 397.5h0M999.7 553.9h0M891.1 484.1h0M837.8 452.4h0M915.6 414.1h0M1026.1 515.1h0M873.5 433.4h0M1008.4 535.5h0M859.7 412.8h0M908.6 403.2h0M939.1 404.2h0M787.0 384.2h0M941.3 462.8h0M1008.1 484.7h0M860.3 439.4h0M801.6 413.6h0M930.3 482.0h0M970.0 519.3h0M861.8 428.5h0M817.6 383.5h0M956.6 527.8h0M918.7 420.3h0M1037.9 545.4h0M911.5 407.1h0M976.9 485.6h0M863.4 428.8h0M860.1 412.6h0M812.9 383.0h0M947.7 444.8h0M1042.4 537.0h0M827.5 437.6h0M984.6 515.9h0M1005.2 470.4h0M932.8 444.7h0M979.6 516.5h0M884.9 414.7h0M825.7 400.1h0M886.9 391.7h0M917.4 443.4h0M992.7 495.9h0M940.5 439.3h0M857.2 431.3h0M969.1 531.1h0M939.8 415.6h0M814.4 423.1h0M890.8 483.4h0M926.5 411.4h0M978.9 501.7h0M809.8 403.1h0M790.0 386.7h0M783.9 397.8h0M787.5 415.5h0M1027.6 488.1h0M846.1 449.9h0M961.5 427.5h0M1047.0 488.9h0M852.4 481.4h0M1043.0 517.6h0M873.8 424.8h0M830.1 390.4h0M905.7 459.2h0M799.8 415.8h0M940.4 517.1h0M832.1 463.6h0M810.2 441.2h0M978.9 470.6h0M878.7 420.5h0M913.3 427.2h0M951.5 454.1h0M889.5 436.2h0M853.8 479.5h0M874.5 395.4h0M870.6 402.5h0M992.4 504.9h0M903.7 436.9h0M873.9 487.7h0M861.3 402.8h0M944.5 443.7h0M886.3 395.9h0M939.2 420.2h0M841.8 429.0h0M836.6 410.3h0M832.5 441.3h0M960.6 406.3h0M799.8 379.2h0M916.6 474.4h0M822.8 394.6h0M821.7 417.9h0M920.2 462.2h0M920.5 445.0h0M830.4 412.9h0M1021.4 541.0h0M994.5 553.3h0M976.1 449.2h0M795.0 398.3h0M918.5 488.3h0M894.0 449.4h0M1008.5 478.9h0M892.6 433.0h0M1028.4 582.3h0M1015.8 539.5h0M778.7 430.6h0M837.3 455.3h0M906.5 418.3h0M876.2 486.7h0M1006.2 433.3h0M842.6 464.9h0M985.0 507.0h0M913.0 420.9h0M923.9 406.7h0M1025.6 560.3h0M892.4 396.9h0M912.1 445.2h0M1024.6 525.0h0M831.8 390.0h0M890.3 497.9h0M1032.2 519.4h0M984.3 541.6h0M947.4 448.6h0M1049.2 541.4h0M828.3 464.0h0M958.9 521.0h0M1040.4 580.9h0M1009.4 539.1h0M896.6 437.4h0M965.6 422.7h0M825.5 400.3h0M865.2 410.1h0M950.5 463.2h0M916.8 414.6h0M901.2 435.9h0M878.6 415.1h0M981.2 442.8h0M1048.8 591.5h0M812.0 455.9h0M982.7 472.8h0M815.1 418.5h0M940.3 516.7h0M889.9 477.0h0M886.1 502.9h0M947.8 417.7h0M950.0 488.1h0M982.3 542.4h0M852.1 421.7h0M1014.1 536.0h0M871.8 488.0h0M840.9 417.0h0M998.1 539.0h0M901.4 445.4h0M892.6 438.0h0M832.9 441.9h0M846.6 389.4h0M851.3 411.1h0M907.8 401.8h0M999.4 482.5h0M1059.9 508.9h0M943.3 513.6h0M891.2 451.9h0M982.0 515.7h0M763.2 391.1h0M880.4 431.0h0M916.9 480.1h0M868.0 420.9h0M870.8 491.0h0M885.4 423.9h0M1028.3 497.1h0M804.0 431.2h0M876.4 421.9h0M848.7 411.6h0M864.7 489.9h0M954.0 510.5h0M1012.3 538.8h0M868.8 449.2h0M852.1 411.7h0M768.5 417.4h0M900.7 450.7h0M1053.3 534.5h0M957.4 449.4h0M891.1 420.8h0M974.5 518.9h0M803.4 409.6h0M993.2 465.6h0M828.0 439.7h0M934.0 502.2h0M936.3 495.5h0M933.0 466.6h0M779.3 388.0h0M1006.4 516.7h0M884.5 454.1h0M898.2 440.5h0M795.2 421.8h0M957.4 436.8h0M821.7 439.2h0M982.5 486.8h0M1070.6 510.8h0M830.9 467.9h0M845.8 445.7h0M870.1 453.8h0M1026.9 523.9h0M864.4 418.9h0M928.7 419.5h0M860.6 400.9h0M872.0 477.3h0M891.9 452.8h0M969.3 456.0h0M873.9 414.5h0M834.0 429.1h0M909.6 443.8h0M891.7 422.4h0M814.5 456.6h0M847.0 477.2h0M893.4 397.0h0M982.9 518.5h0M859.5 421.2h0M1007.9 548.0h0M1053.8 541.3h0M941.1 436.8h0M1001.2 529.7h0M1041.5 492.1h0M894.3 437.0h0M1016.7 508.9h0M991.2 553.6h0M891.3 446.1h0M1027.7 475.6h0M836.3 432.7h0M841.4 387.3h0M988.6 492.8h0M929.4 418.2h0M782.9 427.7h0M864.1 442.5h0M902.1 472.7h0M880.2 424.6h0M825.8 394.8h0M972.4 421.4h0M900.4 481.2h0M926.9 476.2h0M948.8 412.6h0M995.8 474.3h0M921.5 464.2h0M1008.9 512.2h0M995.0 512.0h0M871.8 477.9h0M870.9 476.0h0M931.3 446.3h0M813.8 454.0h0M1022.6 518.1h0M913.9 495.6h0M971.3 514.2h0M812.1 448.2h0M981.3 522.8h0M891.6 494.4h0M868.0 450.4h0M920.7 416.6h0M994.0 547.4h0M809.2 441.5h0M950.3 450.5h0M855.2 421.9h0M835.1 469.3h0M812.5 433.6h0M963.1 474.9h0M915.9 502.6h0M948.4 518.4h0M803.2 423.3h0M878.5 460.7h0M811.5 382.6h0M900.0 449.2h0M831.6 430.4h0M935.6 491.5h0M957.9 521.4h0M899.4 437.6h0M1021.5 549.4h0M991.6 517.1h0M905.4 413.0h0M963.3 532.9h0M868.2 415.3h0M952.6 419.7h0M857.4 486.5h0M773.1 394.5h0M958.6 445.8h0M992.0 549.9h0M1050.5 558.9h0M795.1 437.3h0M1009.5 503.7h0M843.1 409.0h0M903.3 461.4h0M873.5 476.6h0M798.4 399.7h0M826.8 445.3h0M876.6 398.8h0M901.9 507.1h0M768.2 387.9h0M851.3 447.1h0M890.9 487.8h0M789.6 404.0h0M839.7 429.5h0M820.9 462.3h0M861.3 458.4h0M1026.6 568.6h0M767.6 398.3h0M937.5 409.0h0M896.9 398.7h0M1035.0 511.7h0M882.1 454.8h0M972.6 503.8h0M807.2 395.8h0M923.5 508.9h0M861.5 400.1h0M808.0 406.2h0M993.1 548.1h0M814.7 401.2h0M911.5 444.9h0M958.9 518.0h0M965.3 498.9h0M968.4 465.5h0M1014.0 573.3h0M796.3 406.8h0M962.8 429.7h0M963.5 478.4h0M785.3 409.4h0M965.0 518.8h0M872.4 398.5h0M933.6 453.8h0M771.6 398.5h0M965.4 532.7h0M836.2 430.8h0M925.7 416.2h0M901.0 451.7h0M766.0 410.2h0M819.3 460.3h0M901.7 420.0h0M836.5 385.8h0M867.0 454.8h0M885.8 445.8h0M861.7 401.2h0M818.7 448.3h0M1026.1 566.4h0M881.9 424.8h0M880.6 423.5h0M876.6 409.1h0M1015.6 503.7h0M876.6 439.2h0M837.8 432.2h0M812.8 412.9h0M916.7 432.4h0M1057.5 512.2h0M858.4 422.6h0M919.4 517.4h0M971.5 536.6h0M948.4 464.0h0M911.0 404.0h0M836.0 451.4h0M938.0 444.9h0M1025.0 557.7h0M851.5 426.9h0M905.3 406.8h0M908.5 434.6h0M934.0 443.2h0M805.0 381.1h0M963.7 453.3h0M883.3 460.5h0M803.1 396.9h0M925.0 464.4h0M1034.1 537.0h0M845.5 405.0h0M843.6 382.7h0M1053.4 579.5h0M931.6 441.3h0M833.8 406.8h0M861.1 448.1h0M924.0 517.6h0M956.5 498.4h0M818.2 385.2h0M819.7 410.2h0M956.7 432.2h0M996.8 558.7h0M951.4 505.9h0M931.6 443.1h0M940.1 507.8h0M801.0 387.8h0M817.9 409.0h0M942.8 444.8h0M862.7 397.1h0M929.4 443.8h0M913.2 486.4h0M952.9 509.6h0M1042.9 581.4h0M866.8 440.2h0M1051.2 542.8h0M839.7 394.8h0M820.3 392.9h0M907.3 509.8h0M855.4 412.4h0M899.6 408.3h0M911.9 422.2h0M784.6 427.0h0M814.8 418.4h0M845.0 465.4h0M862.4 422.5h0M900.4 468.2h0M836.3 455.5h0M797.6 383.7h0M939.8 486.9h0M979.4 488.5h0M935.9 508.1h0M915.1 412.5h0M848.6 398.5h0M835.9 401.7h0M966.8 453.5h0M859.5 482.5h0M1016.5 493.7h0M1072.1 512.2h0M896.4 404.9h0M892.6 387.6h0M863.4 378.3h0M804.3 431.8h0M813.9 432.1h0M889.9 433.7h0M1050.9 521.5h0M1002.7 505.8h0M969.6 539.0h0M801.8 401.2h0M871.8 477.3h0M1038.8 533.8h0M927.4 454.8h0M811.7 384.1h0M905.2 431.6h0M991.5 472.1h0M850.3 462.7h0M921.4 409.3h0M904.6 438.7h0M864.5 490.6h0M998.1 559.7h0M1030.7 541.9h0M862.4 385.8h0M816.5 406.6h0M833.4 464.6h0M864.2 489.5h0M884.1 437.5h0M933.8 422.6h0M944.7 488.6h0M925.9 462.7h0M967.0 441.3h0M937.3 413.1h0M904.6 442.3h0M933.7 426.8h0M935.3 428.9h0M903.1 487.1h0M759.8 386.5h0M906.0 404.0h0M941.8 398.5h0M905.0 447.0h0M828.8 417.7h0M994.6 483.7h0M930.9 500.6h0M878.1 469.0h0M816.7 431.9h0M840.0 408.7h0M957.3 419.5h0M876.4 452.4h0M910.9 407.3h0M971.7 500.2h0M917.7 449.0h0M828.3 419.6h0M836.2 464.3h0M925.2 430.8h0M898.4 485.6h0M900.6 387.7h0M892.9 483.7h0M795.6 396.8h0M969.8 471.7h0M1054.2 556.9h0M962.9 491.9h0M791.5 414.0h0M759.4 391.8h0M794.8 440.2h0M883.9 399.9h0M859.8 443.4h0M975.9 375.0h0M820.7 460.2h0M877.3 472.4h0M996.6 496.8h0M977.5 506.9h0M912.8 497.9h0M890.1 440.7h0M971.4 508.2h0M1036.8 485.8h0M961.0 424.3h0M767.4 396.2h0M926.4 412.0h0M836.7 413.0h0M834.5 422.8h0M1004.6 511.6h0M944.4 431.3h0M921.1 448.0h0M884.5 485.7h0M1037.2 484.9h0M1038.8 538.6h0M933.7 489.9h0M948.9 422.1h0M961.2 481.2h0M797.4 381.9h0M960.0 455.7h0M802.2 405.4h0M1003.6 476.4h0M853.5 415.5h0M867.8 474.1h0M875.1 479.3h0M949.3 478.4h0M996.3 505.9h0M932.9 419.6h0M875.9 406.3h0M968.1 373.7h0M899.9 444.9h0M914.1 417.1h0M922.2 495.2h0M1041.5 559.1h0M891.0 416.7h0M868.1 488.6h0M904.9 431.2h0M982.1 509.1h0M770.0 404.9h0M823.9 433.7h0M865.7 422.7h0M841.8 394.9h0M815.8 396.8h0M1035.0 592.5h0M1000.9 485.6h0M874.3 411.9h0M820.2 456.9h0M1046.7 494.4h0M996.5 527.5h0M985.5 543.5h0M922.4 498.9h0M940.0 453.7h0M908.0 438.1h0M926.2 444.2h0M963.9 431.0h0M857.7 417.8h0M972.2 509.8h0M1000.1 552.9h0M810.2 436.3h0M851.2 415.4h0M841.6 399.0h0M891.9 399.4h0M939.5 477.2h0M1033.6 504.4h0M1004.5 515.7h0M868.4 370.8h0M1038.7 550.2h0M972.6 470.3h0M979.0 460.9h0M819.2 405.9h0M860.2 490.2h0M895.1 414.1h0M1033.7 493.9h0M806.2 386.4h0M794.3 395.3h0M856.9 437.5h0M951.7 404.6h0M949.6 442.0h0M994.6 475.7h0M872.0 404.3h0M795.5 423.4h0M867.2 460.0h0M974.0 488.6h0M918.2 454.4h0M886.2 483.3h0M850.1 467.7h0M843.5 433.0h0M876.8 396.3h0M916.1 442.7h0M859.2 413.5h0M886.1 420.6h0M835.2 400.4h0M948.5 530.0h0M948.4 453.1h0M814.6 440.4h0M867.5 409.3h0M844.6 436.6h0M941.6 456.8h0M956.2 534.0h0M1047.8 509.1h0M791.8 392.9h0M991.9 525.4h0M853.8 414.8h0M969.4 523.4h0M841.1 442.2h0M1032.1 492.8h0M1014.0 524.5h0M928.4 457.1h0M823.6 404.1h0M809.6 402.2h0M884.4 465.1h0M822.8 430.3h0M942.5 410.7h0M798.0 430.2h0M849.1 424.6h0M1037.8 547.1h0M913.1 512.5h0M986.9 520.1h0M942.3 423.3h0M988.9 451.2h0M823.6 383.6h0M1053.6 507.7h0M1022.0 507.6h0M925.9 501.4h0M964.5 528.0h0M895.6 406.7h0M995.2 495.0h0M806.6 450.9h0M991.7 469.5h0M1012.1 565.2h0M963.5 472.1h0M854.1 440.0h0M974.6 428.8h0M1055.2 502.0h0M797.2 440.8h0M870.7 453.1h0M921.9 460.2h0M1046.1 568.5h0M943.7 462.9h0M738.5 393.9h0M875.3 398.8h0M1040.5 536.0h0M932.2 430.2h0M828.8 396.9h0M928.5 476.3h0M867.6 398.0h0M947.8 491.8h0M858.3 473.6h0M972.1 537.2h0M902.9 425.4h0M960.8 500.8h0M1053.6 579.9h0M1034.4 525.0h0M970.9 448.8h0M849.0 418.7h0M993.0 485.8h0M998.5 505.3h0M926.7 490.6h0M915.1 444.0h0M845.1 435.7h0M799.0 424.8h0M1020.3 515.2h0M840.3 418.2h0M845.0 406.2h0M787.1 403.2h0M857.6 428.0h0M968.1 532.7h0M897.5 487.3h0M1049.2 503.7h0M1016.6 510.6h0M1009.2 512.7h0M905.0 436.1h0M977.4 422.1h0M916.0 498.6h0M857.4 410.5h0M1000.7 562.9h0M1038.8 533.1h0M845.0 430.7h0M1047.9 509.3h0M801.2 379.6h0M803.8 404.0h0M883.3 423.6h0M1018.9 499.1h0M1017.9 523.6h0M941.0 526.6h0M803.9 394.1h0M830.9 432.9h0M912.8 402.4h0M811.7 398.8h0M921.5 490.3h0M950.3 507.0h0M873.8 481.0h0M858.3 467.5h0M944.2 501.3h0M1003.7 489.9h0M860.0 403.7h0M800.1 388.5h0M1047.7 515.1h0M942.2 401.8h0M923.4 445.9h0M813.4 399.6h0M919.1 458.3h0M864.4 404.5h0M803.2 443.2h0M849.3 458.2h0M923.0 470.6h0M808.1 410.3h0M959.3 427.8h0M1059.9 502.8h0M952.0 441.3h0M832.1 468.4h0M929.8 415.1h0M1009.4 472.6h0M1029.3 483.3h0M818.0 447.3h0M955.1 484.9h0M993.4 530.2h0M1016.9 541.8h0M1044.4 537.9h0M842.1 387.2h0M1041.5 565.3h0M828.1 422.9h0M917.1 431.6h0M983.5 500.7h0M812.4 409.9h0M793.7 382.0h0M882.0 420.1h0M793.1 385.5h0M959.6 418.6h0M845.0 454.9h0M958.1 413.9h0M920.8 427.1h0M837.9 425.9h0M761.9 397.1h0M995.0 553.7h0M799.9 384.1h0M1031.9 483.7h0M963.2 376.4h0M1008.7 520.0h0M1040.1 486.2h0M1043.4 514.6h0M883.2 426.6h0M939.7 428.0h0M926.9 478.1h0M824.1 426.4h0M1024.9 464.9h0M868.4 475.1h0M780.2 411.4h0M841.4 423.9h0M965.7 507.8h0M870.5 409.7h0M817.7 418.6h0M869.4 402.5h0M870.1 487.6h0M969.2 495.9h0M951.0 502.0h0M984.6 488.2h0M886.9 440.7h0M916.1 444.0h0M895.4 440.4h0M973.8 530.0h0M841.3 396.9h0M902.0 501.4h0M1001.1 476.9h0M961.8 452.7h0M876.2 395.4h0M854.9 409.3h0M900.8 502.2h0M885.5 418.3h0M943.3 508.8h0M829.3 389.4h0M850.0 419.6h0M985.2 485.3h0M919.0 426.1h0M783.7 387.4h0M927.6 454.5h0M1022.8 576.8h0M842.2 473.1h0M902.4 414.4h0M934.4 484.2h0M948.6 453.2h0M914.1 432.0h0M906.5 462.6h0M814.9 393.2h0M922.9 450.3h0M904.9 408.2h0M860.0 397.2h0M819.1 453.7h0M858.6 411.0h0M1054.6 567.8h0M904.5 376.9h0M844.6 437.5h0M891.2 430.0h0M1051.1 534.7h0M809.3 405.5h0M786.2 403.3h0M853.9 398.1h0M878.5 448.7h0M888.3 405.2h0M937.3 458.7h0M873.0 492.0h0M901.4 399.6h0M806.2 386.9h0M1026.8 482.6h0M930.6 471.0h0M806.9 403.5h0M1013.6 481.0h0M750.5 387.6h0M771.7 415.7h0M829.8 398.2h0M856.0 420.9h0M963.5 450.6h0M938.1 392.9h0M781.2 399.0h0M985.5 527.8h0M995.4 467.9h0M888.9 428.9h0M923.0 499.9h0M940.8 440.3h0M821.0 418.6h0M847.1 427.4h0M939.4 395.7h0M878.7 398.0h0M920.8 412.7h0M887.3 404.4h0M863.7 463.2h0M903.2 451.3h0M938.9 450.0h0M813.2 423.2h0M1035.2 452.7h0M1002.1 535.6h0M848.0 388.8h0M801.5 400.4h0M1009.9 537.8h0M868.4 482.4h0M890.6 402.5h0M766.8 403.8h0M754.3 403.2h0M871.9 407.2h0M973.2 439.7h0M902.0 441.0h0M845.6 393.5h0M856.2 487.4h0M923.0 448.9h0M817.1 449.3h0M959.7 468.2h0M779.5 389.3h0M900.7 437.5h0M900.3 415.5h0M1043.9 582.5h0M1019.9 538.2h0M892.0 429.2h0M866.9 485.1h0M881.3 499.0h0M1056.4 604.0h0M829.8 441.6h0M850.7 447.4h0M1061.8 502.6h0M1049.2 545.5h0M868.7 411.3h0M901.1 418.3h0M799.5 410.0h0M880.0 433.4h0M1030.4 558.5h0M898.4 474.1h0M962.7 432.6h0M857.7 426.4h0M932.0 420.3h0M959.3 458.4h0M891.8 407.0h0M808.3 416.9h0M1024.8 515.7h0M864.6 476.6h0M1011.3 516.5h0M908.9 410.3h0M983.7 379.9h0M456.9 278.6h0M482.1 278.6h0M473.3 287.0h0M490.1 287.9h0M516.0 294.1h0M570.2 308.9h0M554.3 314.2h0M572.7 318.1h0M621.1 316.9h0M559.3 323.5h0M582.8 326.1h0M594.6 323.1h0M582.0 332.4h0M608.3 337.1h0M624.0 339.9h0M616.1 345.8h0M624.8 346.6h0M629.0 345.0h0M698.6 339.1h0M623.7 339.9h0M725.8 342.1h0M750.1 351.2h0M670.4 343.8h0M676.3 349.2h0M626.7 345.8h0M646.9 352.5h0M667.0 355.0h0M717.7 347.5h0M703.5 353.4h0M694.7 353.4h0M688.0 355.9h0M703.1 361.2h0M643.5 361.2h0M647.7 358.4h0M664.0 362.6h0M683.8 364.3h0M723.3 361.7h0M727.5 358.4h0M734.2 358.4h0M744.3 361.7h0M730.8 364.3h0M988.8 322.8h0M882.2 359.7h0M838.2 369.3h0M942.7 369.0h0M1082.1 544.5h0M1079.1 557.8h0M1093.1 561.7h0M1079.1 586.2h0M1064.0 577.2h0M1058.2 577.8h0M1056.3 594.0h0M1046.6 597.2h0M1100.6 597.2h0M1093.3 603.4h0M1093.8 608.6h0M1097.3 612.7h0M1049.8 582.3h0M1116.0 636.0h0M676.0 375.5h0M679.5 373.5h0M690.0 373.5h0M699.0 379.5h0M705.0 383.0h0M717.5 381.0h0M719.0 388.0h0M725.0 387.0h0M730.0 389.0h0M733.0 378.5h0M750.0 393.0h0M756.0 391.0h0M760.0 393.0h0M766.0 380.0h0M754.0 411.0h0M775.0 383.0h0" stroke="#0000ff" stroke-width="6.30" stroke-linecap="round" fill="none"/>
<path d="M950.7 483.0h0M814.5 436.4h0M1014.8 496.9h0M826.0 464.3h0M944.3 442.0h0M942.2 462.4h0M965.8 517.3h0M757.6 399.9h0M972.6 492.5h0M881.0 479.3h0M812.9 433.1h0M757.1 404.6h0M843.4 478.6h0M1027.4 499.0h0M920.1 480.2h0M950.8 498.0h0M1006.4 444.9h0M874.1 383.5h0M914.1 426.5h0M984.4 494.7h0M882.6 477.8h0M947.3 441.1h0M873.8 482.1h0M845.4 473.2h0M1002.4 548.2h0M898.5 505.4h0M1045.4 521.3h0M872.4 479.2h0M849.5 380.7h0M912.7 454.4h0M1011.7 557.5h0M849.7 476.3h0M874.5 480.5h0M1020.6 488.6h0M1006.7 569.5h0M948.5 485.8h0M916.8 460.8h0M872.3 454.0h0M931.2 490.5h0M953.1 482.7h0M939.1 496.8h0M926.5 481.3h0M865.7 487.2h0M845.3 473.3h0M1014.2 511.7h0M879.6 477.1h0M861.8 411.4h0M881.3 478.8h0M991.0 529.4h0M783.4 433.2h0M890.1 452.4h0M964.3 464.1h0M904.9 484.7h0M899.8 455.8h0M916.3 449.4h0M916.7 443.6h0M879.4 466.5h0M1003.1 550.4h0M1012.8 523.7h0M783.1 395.4h0M929.8 522.7h0M995.6 530.4h0M787.0 423.5h0M770.6 416.9h0M864.6 404.9h0M883.9 470.7h0M916.8 480.1h0M957.5 460.9h0M939.9 510.7h0M961.0 466.9h0M753.0 407.4h0M862.0 453.6h0M962.3 487.4h0M1013.4 571.4h0M1039.9 532.2h0M1053.9 542.4h0M864.4 476.4h0M845.9 464.2h0M918.9 419.9h0M964.3 429.6h0M1049.4 527.7h0M830.7 465.0h0M794.8 438.5h0M1042.1 491.7h0M884.1 384.2h0M869.8 485.6h0M896.0 460.6h0M893.1 455.0h0M827.7 458.1h0M1008.7 460.0h0M799.0 442.3h0M969.0 490.2h0M865.5 474.7h0M998.0 554.3h0M903.7 439.8h0M819.0 428.8h0M970.7 532.9h0M796.8 426.3h0M975.6 526.7h0M951.0 443.7h0M965.0 462.8h0M832.8 396.4h0M852.5 403.1h0M957.4 521.8h0M933.8 452.2h0M933.0 456.9h0M879.2 496.4h0M918.8 515.9h0M967.9 526.5h0M968.2 497.7h0M958.6 505.2h0M892.0 465.3h0M886.4 499.4h0M834.0 412.2h0M794.8 440.2h0M1002.3 506.3h0M990.2 493.4h0M1057.8 543.8h0M942.0 502.4h0M788.1 410.1h0M838.7 467.3h0M1012.8 569.8h0M915.0 508.3h0M848.3 456.4h0M826.2 460.0h0M843.4 464.6h0M754.2 402.0h0M847.9 472.7h0M1045.3 577.8h0M905.5 412.6h0M941.3 455.7h0M793.4 434.6h0M858.8 476.9h0M795.3 416.7h0M855.3 467.0h0M949.0 480.8h0M946.0 502.4h0M860.9 463.8h0M943.4 484.8h0M942.8 458.6h0M874.5 461.8h0M882.7 434.2h0M827.3 454.6h0M1017.7 502.8h0M985.7 511.6h0M847.7 443.6h0M1048.9 549.9h0M873.9 460.9h0M1034.4 474.2h0M915.1 499.9h0M863.5 447.9h0M867.3 461.5h0M933.1 518.9h0M946.5 516.0h0M907.0 464.8h0M959.6 482.5h0M926.4 465.2h0M851.0 444.7h0M971.3 513.4h0M951.3 533.3h0M1006.3 470.0h0M889.9 473.8h0M768.8 403.5h0M770.0 412.8h0M998.2 544.2h0M969.9 521.3h0M955.5 529.5h0M1039.7 471.7h0M877.2 453.4h0M952.1 510.5h0M903.5 440.2h0M1036.9 500.2h0M941.5 507.1h0M916.9 455.6h0M830.6 444.5h0M868.8 460.6h0M1013.8 517.4h0M926.7 461.4h0M926.6 517.6h0M856.9 479.3h0M982.2 529.3h0M913.0 464.8h0M796.3 423.9h0M952.0 485.0h0M1010.1 566.2h0M1019.6 466.8h0M990.7 523.0h0M993.2 475.0h0M861.1 410.5h0M846.4 474.1h0M924.5 481.5h0M899.6 445.4h0M924.2 482.4h0M939.3 467.9h0M995.8 536.9h0M935.9 458.1h0M968.9 474.2h0M785.0 412.3h0M840.5 465.8h0M961.9 469.5h0M806.1 425.8h0M988.8 490.3h0M1014.0 517.4h0M1009.0 498.8h0M789.6 426.2h0M890.6 478.8h0M947.1 520.6h0M801.2 423.3h0M972.2 468.6h0M1035.9 593.8h0M1008.2 483.2h0M1015.6 523.7h0M849.4 481.0h0M906.9 465.4h0M835.7 453.8h0M995.2 474.7h0M946.6 468.9h0M987.2 471.0h0M951.4 475.2h0M959.2 486.5h0M836.1 465.7h0M811.4 410.3h0M849.6 449.8h0M938.0 493.3h0M926.7 455.3h0M1032.7 545.6h0M840.6 471.9h0M841.1 452.8h0M912.8 504.0h0M1042.7 525.1h0M1016.2 528.4h0M819.8 445.1h0M980.4 472.2h0M1031.6 576.6h0M1009.3 540.1h0M834.6 395.9h0M920.9 483.6h0M879.7 469.3h0M1037.6 532.8h0M959.6 524.7h0M939.1 495.9h0M944.3 514.4h0M879.1 461.8h0M903.1 486.5h0M1025.5 507.3h0M951.0 459.9h0M948.9 521.6h0M877.0 479.5h0M914.5 480.6h0M927.8 429.8h0M901.7 468.8h0M842.8 420.0h0M1013.6 518.2h0M983.1 468.9h0M909.8 454.8h0M977.4 526.1h0M824.4 404.9h0M939.0 504.8h0M1035.4 498.4h0M835.6 459.0h0M898.7 493.6h0M832.8 448.5h0M952.1 520.2h0M920.9 455.7h0M899.0 491.2h0M1031.2 517.1h0M970.7 485.0h0M756.1 405.0h0M1055.8 573.7h0M901.6 454.6h0M891.7 450.3h0M802.1 424.3h0M963.8 516.7h0M1000.6 511.0h0M897.1 469.4h0M1038.7 491.4h0M986.5 492.7h0M1013.5 557.1h0M824.6 431.4h0M896.7 490.0h0M954.1 486.9h0M788.9 419.2h0M940.6 460.3h0M976.2 491.8h0M970.1 373.5h0M901.7 401.2h0M744.2 397.6h0M965.0 505.9h0M815.7 429.5h0M865.0 402.3h0M880.7 473.7h0M953.1 461.3h0M869.7 422.7h0M948.1 476.8h0M976.6 522.6h0M955.3 535.4h0M836.4 461.1h0M926.0 466.2h0M915.0 468.4h0M915.1 405.8h0M862.7 456.4h0M856.9 458.7h0M792.0 421.1h0M934.4 489.3h0M956.4 444.3h0M951.3 495.6h0M857.5 471.4h0M954.5 503.0h0M1022.3 527.3h0M825.5 438.4h0M863.7 468.4h0M996.2 528.9h0M804.4 425.4h0M899.5 509.5h0M846.7 447.7h0M874.3 398.5h0M880.4 431.5h0M972.3 537.4h0M1064.9 505.0h0M971.3 493.8h0M841.2 474.1h0M971.3 488.2h0M764.9 406.6h0M917.6 424.4h0M829.6 452.5h0M921.4 451.9h0M950.2 523.9h0M799.0 442.9h0M946.3 493.6h0M799.4 437.6h0M847.9 482.5h0M958.0 523.5h0M1007.6 523.7h0M990.2 541.0h0M960.7 506.5h0M911.7 481.0h0M837.1 446.1h0M927.0 484.0h0M945.5 515.2h0M988.7 478.2h0M810.8 453.5h0M803.4 448.8h0M980.0 536.7h0M895.9 470.6h0M906.9 510.1h0M928.2 468.8h0M1007.0 482.6h0M846.3 477.8h0M1056.9 551.1h0M1033.3 575.5h0M942.3 485.7h0M879.9 464.3h0M882.2 490.5h0M838.7 448.2h0M941.3 512.9h0M799.6 381.1h0M942.1 512.0h0M953.1 488.9h0M939.8 509.3h0M1009.4 512.2h0M774.4 413.8h0M999.5 403.1h0M1026.9 512.7h0M999.7 509.3h0M875.1 493.9h0M855.8 463.8h0M877.2 434.8h0M847.9 461.5h0M923.9 456.7h0M1049.4 599.1h0M852.2 485.8h0M817.4 372.5h0M875.9 483.0h0M974.3 495.0h0M1058.2 520.7h0M971.9 448.5h0M893.6 494.7h0M769.3 411.8h0M942.9 524.5h0M945.1 494.7h0M788.2 411.0h0M935.5 467.6h0M883.5 428.0h0M919.2 514.1h0M1038.6 527.2h0M893.4 500.3h0M872.1 393.2h0M1003.4 532.4h0M805.3 385.6h0M887.7 472.5h0M870.0 461.2h0M972.7 518.9h0M935.1 516.5h0M789.6 435.4h0M895.7 499.1h0M850.6 478.9h0M951.5 437.8h0M874.2 469.0h0M944.0 500.1h0M898.0 507.8h0M912.6 448.5h0M789.7 420.6h0M891.6 483.5h0M961.4 505.9h0M832.9 466.9h0M940.3 492.9h0M889.5 436.8h0M952.0 474.7h0M858.6 468.7h0M779.6 423.9h0M810.3 426.0h0M907.0 467.0h0M913.7 512.8h0M803.0 414.3h0M1018.7 534.1h0M929.4 452.7h0M899.7 507.4h0M899.9 498.9h0M944.8 517.3h0M950.7 490.2h0M996.4 477.1h0M894.4 463.5h0M933.3 504.9h0M962.6 415.3h0M922.2 456.1h0M907.9 468.2h0M926.1 423.4h0M913.3 438.1h0M1044.6 505.4h0M1035.0 519.3h0M734.1 395.4h0M1044.0 561.2h0M1044.9 503.6h0M996.4 513.1h0M766.1 403.2h0M795.5 422.4h0M907.6 481.7h0M797.2 427.3h0M1011.9 569.9h0M888.3 437.2h0M872.4 480.0h0M846.6 475.4h0M889.8 455.0h0M878.0 487.1h0M830.5 446.7h0M925.0 520.9h0M947.0 498.8h0M793.5 379.9h0M914.8 493.0h0M982.4 475.7h0M953.5 400.2h0M1062.5 518.7h0M793.6 421.4h0M836.2 439.3h0M975.6 465.5h0M843.2 409.3h0M809.2 452.7h0M801.6 434.1h0M1038.7 566.7h0M986.8 535.1h0M914.5 461.0h0M862.0 449.1h0M767.2 414.9h0M930.3 467.2h0M941.6 498.8h0M943.9 483.0h0M775.4 427.4h0M788.9 433.7h0M865.7 471.4h0M914.3 461.2h0M837.6 468.1h0M880.8 475.8h0M946.4 459.0h0M884.7 411.8h0M902.9 437.3h0M1031.5 512.9h0M782.5 394.6h0M1009.7 516.3h0M827.6 392.6h0M893.7 479.1h0M798.6 429.6h0M1008.1 529.2h0M809.2 413.9h0M1010.7 538.4h0M996.3 515.0h0M803.7 442.7h0M971.6 483.2h0M851.9 470.1h0M937.0 524.2h0M948.4 515.1h0M915.1 463.4h0M947.5 515.2h0M973.3 515.2h0M914.1 458.1h0M766.4 383.3h0M1048.8 498.0h0M848.0 468.5h0M1012.0 534.0h0M820.0 444.3h0M895.9 502.7h0M810.4 451.0h0M914.8 501.5h0M900.6 481.7h0M978.1 475.8h0M861.6 464.9h0M924.3 494.1h0M944.7 501.6h0M1037.9 488.3h0M1010.3 515.0h0M891.9 499.8h0M880.7 477.2h0M1043.2 493.0h0M863.9 455.4h0M823.6 434.2h0M889.8 450.0h0M816.3 458.5h0M954.0 413.7h0M764.9 404.1h0M904.2 472.6h0M940.4 474.7h0M988.2 552.0h0M1004.7 540.2h0M915.7 410.2h0M1040.9 577.2h0M844.7 456.1h0M962.9 499.8h0M952.6 477.8h0M831.7 454.1h0M960.4 530.8h0M860.6 450.7h0M1045.2 463.1h0M934.8 512.1h0M798.3 428.9h0M942.7 466.5h0M869.2 450.3h0M977.7 509.2h0M872.8 477.6h0M934.3 501.7h0M761.8 402.7h0M903.3 483.7h0M919.6 488.3h0M870.7 436.5h0M815.7 438.4h0M950.1 524.1h0M916.3 421.9h0M811.6 453.6h0M1007.8 476.7h0M951.2 501.7h0M1056.5 543.8h0M827.6 394.4h0M952.7 519.2h0M882.0 468.1h0M885.1 462.4h0M1059.3 517.5h0M879.5 449.8h0M961.1 463.9h0M846.9 479.5h0M877.0 467.4h0M955.0 528.8h0M898.8 487.6h0M985.0 451.8h0M845.9 454.6h0M966.9 503.0h0M917.4 517.6h0M944.1 458.2h0M939.8 515.4h0M952.4 376.4h0M937.9 476.9h0M1073.3 487.9h0M914.7 457.4h0M1010.4 473.4h0M823.7 414.5h0M850.2 454.0h0M797.7 382.2h0M1037.8 469.3h0M893.2 440.9h0M945.7 511.3h0M931.5 453.8h0M980.1 532.9h0M1036.9 555.0h0M974.3 531.3h0M1039.4 502.0h0M826.7 465.2h0M819.3 460.5h0M939.6 515.5h0M860.3 416.8h0M956.2 528.0h0M876.9 499.0h0M980.0 490.4h0M1030.9 579.1h0M970.4 476.5h0M793.1 430.5h0M1026.5 463.1h0M931.8 483.5h0M1027.3 516.4h0M1022.4 566.2h0M868.6 449.4h0M890.6 475.7h0M932.7 520.3h0M1048.1 584.1h0M862.2 456.3h0M910.8 471.9h0M768.7 404.8h0M966.2 461.0h0M760.6 407.1h0M911.0 450.1h0M932.8 502.8h0M881.5 477.0h0M923.1 486.4h0M846.5 426.6h0M835.3 448.7h0M870.5 476.9h0M963.3 524.4h0M819.0 430.9h0M954.9 464.7h0M935.2 494.9h0M1016.3 504.3h0M820.8 393.5h0M959.5 460.4h0M966.7 528.1h0M985.0 515.1h0M1037.9 506.8h0M925.7 489.6h0M1014.3 532.8h0M917.7 435.2h0M966.0 503.6h0M914.1 471.9h0M858.0 466.9h0M1034.1 531.2h0M905.8 433.3h0M1000.7 483.7h0M857.0 448.6h0M1030.1 556.5h0M890.8 474.1h0M964.2 529.9h0M996.8 490.5h0M916.2 466.9h0M994.8 506.4h0M911.7 454.3h0M873.0 390.8h0M1010.1 556.9h0M1011.5 491.0h0M863.5 418.7h0M930.3 474.2h0M989.1 485.5h0M852.6 476.9h0M922.9 455.6h0M973.0 535.8h0M1013.1 527.6h0M971.0 493.5h0M917.9 470.4h0M928.9 411.7h0M934.5 486.1h0M932.1 506.5h0M851.5 481.7h0M963.2 531.4h0M994.6 479.4h0M871.9 458.1h0M970.4 417.8h0M963.7 527.5h0M924.2 421.1h0M804.1 434.1h0M968.6 537.6h0M956.9 468.8h0M864.1 491.6h0M823.4 368.1h0M1023.4 528.0h0M1009.8 493.5h0M989.6 514.0h0M1049.9 516.6h0M954.2 532.6h0M800.3 389.2h0M930.5 473.1h0M951.5 488.0h0M1037.5 554.7h0M955.9 462.2h0M990.9 525.3h0M846.4 474.7h0M1016.1 564.9h0M777.7 416.6h0M749.2 399.3h0M808.2 443.9h0M1001.0 501.2h0M789.6 415.2h0M883.5 449.8h0M893.7 490.4h0M973.7 526.1h0M943.6 522.1h0M978.8 394.4h0M1023.1 480.4h0M774.8 423.6h0M894.0 494.0h0M805.0 426.4h0M883.5 459.4h0M872.9 489.7h0M981.0 501.4h0M947.3 497.1h0M972.8 523.1h0M903.6 411.1h0M819.9 397.4h0M1055.2 542.9h0M866.7 396.2h0M814.8 434.7h0M945.0 478.8h0M845.4 470.4h0M1039.8 593.8h0M972.9 482.1h0M979.7 453.1h0M978.5 529.3h0M801.4 424.4h0M970.2 493.5h0M1036.3 480.9h0M915.4 424.8h0M1003.3 467.9h0M1036.4 561.4h0M839.4 469.7h0M851.0 466.9h0M854.5 465.7h0M781.2 409.9h0M823.6 455.7h0M991.7 555.3h0M922.5 454.2h0M848.7 456.0h0M983.1 497.2h0M1006.5 413.3h0M893.6 500.8h0M896.3 377.5h0M953.2 461.2h0M850.7 462.2h0M913.9 473.4h0M981.8 539.2h0M819.5 445.2h0M948.2 459.6h0M1030.0 567.8h0M801.8 439.6h0M808.9 439.8h0M951.9 503.4h0M870.0 490.1h0M878.6 498.0h0M818.6 385.9h0M928.7 456.4h0M870.5 453.8h0M1026.7 559.7h0M1032.8 559.1h0M936.1 521.1h0M1028.7 581.8h0M1053.0 550.1h0M1012.7 472.8h0M836.4 436.2h0M914.8 474.7h0M892.3 477.3h0M946.1 460.1h0M1071.3 514.1h0M944.3 503.7h0M1016.4 504.4h0M881.9 413.9h0M992.1 551.5h0M865.5 421.4h0M1015.5 532.2h0M945.8 456.8h0M804.3 420.5h0M811.6 412.4h0M784.4 384.4h0M851.7 391.5h0M957.7 518.9h0M779.3 420.4h0M882.5 487.0h0M743.8 404.2h0M936.9 466.1h0M986.5 495.6h0M841.6 449.7h0M923.8 453.6h0M907.1 505.0h0M992.4 479.8h0M1036.8 592.2h0M909.0 451.5h0M1035.4 503.8h0M1009.3 562.5h0M1052.2 522.0h0M945.7 519.5h0M985.1 501.0h0M954.3 490.6h0M924.0 505.1h0M1007.7 532.8h0M817.4 451.2h0M951.1 517.2h0M951.3 448.4h0M869.6 401.0h0M951.6 528.7h0M1013.1 569.0h0M947.9 458.2h0M985.8 526.0h0M876.7 478.9h0M918.0 510.8h0M841.5 432.4h0M774.2 412.9h0M752.0 395.3h0M973.4 476.4h0M959.7 486.9h0M971.8 465.0h0M787.5 429.4h0M954.6 493.1h0M900.5 497.2h0M870.0 490.9h0M1050.1 502.4h0M730.3 399.6h0M1048.0 597.0h0M881.6 404.9h0M989.9 511.4h0M891.9 480.1h0M1043.4 528.8h0M973.0 497.4h0M1040.3 524.1h0M928.0 509.7h0M1008.9 421.5h0M1031.6 547.9h0M917.8 507.2h0M913.3 416.7h0M1036.6 525.8h0M956.1 507.8h0M1019.8 573.2h0M880.9 448.2h0M979.3 474.4h0M926.4 472.1h0M1001.0 516.3h0M961.4 460.6h0M1024.3 518.3h0M792.8 422.2h0M734.9 398.9h0M785.3 408.3h0M952.6 473.0h0M985.0 398.3h0M1019.3 545.9h0M902.3 462.7h0M800.4 439.5h0M810.5 424.8h0M922.4 469.7h0M1048.0 571.2h0M981.9 541.2h0M826.0 465.1h0M981.8 504.9h0M1010.3 519.4h0M934.6 468.4h0M833.2 462.4h0M1009.4 466.2h0M965.5 526.7h0M921.0 469.8h0M978.5 514.6h0M801.4 418.9h0M793.2 407.7h0M1018.4 531.0h0M969.7 468.5h0M891.1 488.1h0M785.6 422.7h0M796.3 376.4h0M815.6 432.0h0M1005.8 553.2h0M950.6 529.8h0M1032.6 589.5h0M938.0 524.7h0M853.4 450.0h0M890.2 482.4h0M805.7 434.7h0M857.7 464.3h0M774.4 419.9h0M1053.2 524.7h0M1018.2 518.5h0M961.3 469.2h0M1013.4 513.3h0M899.6 449.5h0M941.5 458.2h0M1016.3 497.6h0M847.2 481.1h0M924.9 489.8h0M783.1 412.7h0M927.8 508.0h0M894.4 436.7h0M937.8 459.2h0M895.5 486.7h0M920.7 509.3h0M822.8 392.6h0M836.2 449.3h0M920.2 487.7h0M979.1 541.7h0M994.4 548.8h0M890.6 496.4h0M966.3 528.5h0M792.2 397.2h0M926.9 492.1h0M1020.0 481.8h0M755.8 406.8h0M1010.7 535.1h0M802.9 398.0h0M961.7 465.1h0M911.7 506.6h0M831.1 463.1h0M768.4 414.5h0M825.3 457.0h0M845.8 468.0h0M1034.9 562.0h0M1002.1 435.7h0M891.4 426.0h0M964.4 502.0h0M990.5 438.2h0M966.2 519.9h0M916.5 510.5h0M994.0 498.9h0M800.5 420.8h0M891.0 423.9h0M771.6 405.4h0M893.5 486.2h0M1045.3 559.9h0M1037.2 579.7h0M905.0 495.6h0M1021.7 514.7h0M869.8 480.7h0M868.9 453.2h0M933.9 482.0h0M885.4 491.4h0M1001.8 527.2h0M924.4 454.7h0M1002.3 489.1h0M994.0 496.8h0M1021.4 560.2h0M911.2 401.9h0M851.0 452.7h0M989.6 467.6h0M964.6 500.3h0M1026.8 525.3h0M868.9 454.5h0M948.8 497.2h0M901.1 453.0h0M1039.9 496.4h0M969.2 517.5h0M938.7 473.3h0M866.6 435.4h0M908.9 461.7h0M930.1 512.9h0M750.4 403.5h0M1021.0 545.4h0M827.4 398.9h0M958.2 529.7h0M986.5 488.6h0M872.1 484.5h0M945.2 430.5h0M945.1 469.3h0M766.7 420.5h0M1033.2 479.6h0M1045.7 488.6h0M944.7 513.8h0M904.8 505.9h0M988.7 546.8h0M941.8 502.1h0M961.1 502.3h0M1008.5 421.1h0M822.1 452.5h0M971.8 478.0h0M850.9 396.1h0M955.5 506.8h0M801.7 439.5h0M825.8 443.6h0M859.5 468.3h0M898.9 454.4h0M858.2 468.9h0M964.6 529.7h0M1004.3 467.4h0M869.0 474.6h0M957.7 499.9h0M1027.0 521.1h0M854.2 463.8h0M839.2 444.8h0M989.8 553.4h0M962.3 503.8h0M948.5 457.8h0M1024.9 554.0h0M798.5 421.8h0M804.7 430.1h0M1055.6 589.1h0M1025.3 522.2h0M900.9 474.0h0M837.9 448.3h0M987.1 519.7h0M996.1 483.1h0M941.4 508.0h0M968.1 494.8h0M928.3 478.6h0M992.6 554.1h0M796.3 443.5h0M799.0 444.6h0M990.5 500.6h0M826.6 452.7h0M1000.4 544.8h0M797.0 437.6h0M927.9 457.1h0M962.5 492.6h0M938.4 499.5h0M920.2 516.0h0M782.8 408.5h0M860.1 398.6h0M912.3 465.6h0M911.6 510.7h0M995.8 430.7h0M1047.4 519.2h0M906.5 484.6h0M881.1 428.4h0M881.2 450.4h0M977.4 513.7h0M803.1 430.3h0M912.1 501.4h0M841.4 387.1h0M914.6 468.6h0M958.2 525.1h0M842.9 444.3h0M912.1 506.2h0M953.0 488.6h0M947.9 499.9h0M943.4 526.6h0M879.0 421.5h0M1050.5 573.2h0M793.6 417.1h0M998.7 559.5h0M1013.1 529.0h0M1014.7 472.2h0M933.7 487.7h0M1030.1 552.2h0M1068.5 512.2h0M995.9 550.5h0M987.5 474.8h0M962.5 477.0h0M873.2 468.1h0M916.5 500.8h0M884.5 413.7h0M1000.7 514.1h0M1028.8 452.2h0M1049.4 566.1h0M988.0 487.2h0M894.5 483.0h0M782.2 425.4h0M981.8 497.7h0M955.5 477.7h0M870.0 455.6h0M929.5 500.6h0M890.9 490.2h0M825.9 432.0h0M891.3 456.6h0M1024.1 541.4h0M951.1 499.1h0M904.1 474.8h0M879.7 446.4h0M975.1 500.0h0M927.9 497.7h0M967.5 457.7h0M953.9 523.2h0M1013.7 536.9h0M928.1 448.3h0M988.9 498.8h0M910.2 486.6h0M966.5 436.8h0M1057.5 554.3h0M1043.6 487.9h0M945.7 459.1h0M1003.4 557.3h0M879.0 486.7h0M979.2 544.0h0M960.8 478.2h0M879.4 471.8h0M885.4 462.4h0M958.7 469.1h0M967.8 492.8h0M918.3 490.2h0M878.6 486.1h0M899.2 469.7h0M961.3 443.2h0M1000.9 444.6h0M914.5 498.5h0M942.4 478.0h0M783.5 431.1h0M998.4 509.1h0M964.8 470.5h0M796.1 407.0h0M967.0 529.5h0M917.5 500.9h0M858.1 484.3h0M774.2 421.0h0M802.0 390.6h0M959.3 473.6h0M1033.9 480.4h0M1023.7 526.2h0M858.2 447.1h0M832.5 402.6h0M846.8 475.0h0M1022.6 461.0h0M1008.5 504.0h0M949.9 456.3h0M965.5 498.4h0M920.3 459.7h0M891.5 456.3h0M969.3 487.0h0M978.1 512.6h0M930.2 522.4h0M890.1 449.3h0M919.4 439.8h0M792.8 433.9h0M845.5 464.7h0M923.4 476.9h0M987.8 497.2h0M889.8 496.7h0M1002.5 495.9h0M1032.5 514.8h0M1010.2 476.1h0M997.6 483.0h0M894.9 494.3h0M918.4 485.2h0M741.7 376.6h0M932.6 422.5h0M1008.2 541.3h0M1021.7 476.1h0M878.2 457.8h0M1011.2 529.5h0M863.1 478.3h0M887.4 500.1h0M842.4 426.0h0M915.1 410.5h0M1026.6 501.1h0M1024.1 539.0h0M825.3 443.8h0M1047.9 570.2h0M887.2 414.1h0M947.4 494.9h0M839.3 446.0h0M819.1 428.0h0M965.6 496.7h0M928.1 495.9h0M1040.9 591.4h0M836.0 433.0h0M923.9 471.2h0M897.1 472.2h0M1031.1 493.4h0M1024.4 531.9h0M876.0 469.7h0M1045.1 523.5h0M1025.2 565.7h0M944.9 470.1h0M938.8 462.5h0M986.8 470.5h0M921.6 472.9h0M923.5 457.4h0M857.7 411.6h0M1000.1 441.7h0M813.9 407.4h0M1050.6 564.7h0M1001.1 538.6h0M821.2 455.3h0M909.5 449.3h0M922.9 465.9h0M879.5 407.9h0M929.4 471.0h0M804.2 435.1h0M882.4 450.3h0M957.6 477.9h0M912.1 492.0h0M966.5 527.0h0M1008.3 471.5h0M939.1 516.9h0M1033.1 585.3h0M945.9 506.2h0M1000.2 466.5h0M844.7 444.4h0M931.4 427.3h0M955.8 519.2h0M978.2 516.4h0M805.2 417.4h0M937.1 497.8h0M805.8 446.8h0M970.4 478.2h0M957.5 521.5h0M863.4 491.7h0M956.5 485.9h0M1025.6 483.9h0M975.9 544.1h0M887.6 483.0h0M1027.8 515.7h0M858.6 475.8h0M960.0 508.3h0M819.5 456.9h0M1055.8 532.1h0M829.5 453.9h0M949.2 494.9h0M859.2 444.1h0M915.3 513.9h0M985.2 504.9h0M973.5 530.4h0M826.6 457.5h0M932.9 471.4h0M858.6 489.8h0M832.2 435.9h0M909.3 466.2h0M905.1 460.1h0M897.8 453.3h0M995.7 505.7h0M912.5 448.7h0M747.2 395.4h0M976.6 537.3h0M891.8 462.9h0M904.5 429.1h0M923.5 464.4h0M1018.3 562.3h0M886.8 456.6h0M824.3 450.8h0M900.1 394.6h0M987.3 524.0h0M855.8 471.5h0M888.1 493.6h0M941.8 495.4h0M846.6 450.3h0M998.5 436.8h0M958.4 462.5h0M812.6 428.8h0M963.4 513.4h0M999.8 534.9h0M869.4 490.8h0M777.6 425.0h0M888.1 475.2h0M935.8 489.3h0M940.8 519.5h0M794.7 402.5h0M962.0 514.6h0M948.9 486.1h0M962.2 492.8h0M924.2 481.0h0M896.6 490.3h0M781.6 430.8h0M957.1 458.4h0M990.3 477.8h0M891.2 490.1h0M943.2 475.5h0M842.7 462.6h0M948.8 513.6h0M864.3 471.3h0M989.5 509.0h0M894.3 489.9h0M1048.4 528.9h0M1023.1 499.4h0M1049.3 597.4h0M804.9 436.9h0M817.1 420.9h0M1025.0 575.1h0M1026.2 559.7h0M1039.7 516.7h0M965.9 484.1h0M763.2 394.0h0M1053.0 503.4h0M887.3 416.6h0M902.3 468.5h0M776.2 411.4h0M1038.7 585.3h0M940.5 514.1h0M934.3 465.8h0M937.4 509.3h0M1050.5 597.2h0M938.0 455.0h0M1021.7 530.9h0M907.0 502.0h0M916.4 508.8h0M873.6 482.0h0M1057.9 525.4h0M960.2 483.3h0M1002.5 563.2h0M1015.6 520.3h0M952.0 473.8h0M953.9 528.6h0M775.7 425.4h0M962.5 462.1h0M859.5 475.6h0M983.6 547.6h0M997.1 465.4h0M997.6 556.1h0M1020.9 548.0h0M908.4 462.9h0M871.8 477.4h0M959.2 406.7h0M959.2 453.2h0M899.1 476.2h0M854.7 464.5h0M1039.1 541.5h0M827.7 420.7h0M793.3 418.9h0M865.5 454.0h0M914.7 470.7h0M902.5 469.7h0M938.5 518.3h0M867.5 396.5h0M951.5 465.5h0M864.5 472.3h0M930.3 371.4h0M976.8 517.0h0M863.1 473.5h0M905.6 416.9h0M1000.3 517.3h0M897.3 445.7h0M916.7 511.6h0M966.5 493.1h0M935.4 490.3h0M883.9 470.0h0M998.9 528.6h0M909.7 503.4h0M918.3 481.0h0M895.0 468.9h0M892.4 485.3h0M850.6 477.1h0M996.3 465.9h0M838.2 402.7h0M1030.2 534.0h0M839.7 441.2h0M998.8 529.6h0M814.6 449.2h0M824.5 457.2h0M849.0 449.0h0M1010.2 477.9h0M855.9 455.4h0M911.9 458.2h0M933.6 510.4h0M808.1 403.6h0M966.5 510.4h0M1037.4 529.8h0M844.7 441.4h0M820.5 461.0h0M1043.4 564.0h0M802.4 437.0h0M969.2 516.4h0M940.0 519.7h0M933.9 489.9h0M879.8 451.6h0M1009.4 473.0h0M950.8 517.8h0M752.7 403.2h0M948.8 516.8h0M896.9 503.3h0M940.0 506.6h0M859.1 452.5h0M1041.3 560.8h0M901.9 499.3h0M972.4 488.9h0M837.6 475.6h0M968.0 482.5h0M955.0 519.6h0M987.9 548.3h0M936.7 455.6h0M969.9 423.1h0M997.7 512.2h0M975.7 542.6h0M1038.3 543.7h0M930.6 504.6h0M905.0 501.6h0M879.6 421.8h0M997.0 432.4h0M1029.6 536.2h0M989.4 547.9h0M875.7 497.9h0M867.2 487.8h0M1010.7 548.8h0M784.1 416.8h0M976.1 498.3h0M860.4 451.6h0M946.4 517.9h0M954.7 522.7h0M861.3 485.0h0M1017.1 577.8h0M939.9 510.7h0M916.3 427.6h0M1027.5 530.9h0M798.6 422.1h0M914.6 414.0h0M758.1 414.6h0M832.9 463.5h0M919.5 454.9h0M1013.7 504.9h0M988.3 529.9h0M949.3 531.7h0M876.9 445.7h0M1056.1 575.3h0M915.1 487.5h0M755.0 406.1h0M992.7 496.5h0M994.5 485.3h0M999.9 561.4h0M951.9 518.3h0M1028.6 496.5h0M912.5 454.4h0M842.0 434.6h0M873.2 497.2h0M1013.4 570.4h0M871.4 453.0h0M914.1 481.9h0M946.0 431.6h0M878.8 495.9h0M1010.6 473.6h0M1038.6 522.1h0M828.8 411.6h0M940.4 506.8h0M832.4 464.6h0M847.6 464.8h0M974.6 504.2h0M859.9 470.2h0M939.6 471.8h0M964.5 479.8h0M867.0 447.6h0M920.4 462.9h0M983.1 527.8h0M930.7 487.0h0M799.9 375.9h0M881.5 477.9h0M967.9 485.4h0M861.8 479.3h0M918.2 418.1h0M793.5 437.0h0M889.1 486.8h0M857.2 466.1h0M930.9 508.3h0M821.7 408.3h0M1040.8 520.5h0M898.0 407.0h0M946.0 481.5h0M957.7 519.9h0M906.0 452.4h0M971.0 464.4h0M963.8 492.6h0M769.0 398.8h0M907.3 472.0h0M975.9 532.3h0M1046.7 505.1h0M778.4 424.5h0M1027.5 517.9h0M792.6 426.6h0M774.2 423.9h0M878.2 496.5h0M1045.9 487.8h0M959.6 428.6h0M1013.3 504.5h0M979.5 428.7h0M784.4 428.2h0M986.0 488.6h0M808.0 416.5h0M895.0 496.7h0M879.5 435.5h0M960.6 415.4h0M830.0 450.4h0M969.9 525.4h0M925.2 464.4h0M1000.0 510.8h0M898.4 413.8h0M828.2 453.1h0M807.6 450.0h0M1009.8 548.1h0M844.5 458.2h0M876.6 437.9h0M930.3 510.7h0M837.0 469.7h0M946.4 511.0h0M815.7 442.2h0M885.5 487.8h0M852.5 455.3h0M909.6 484.1h0M981.4 473.8h0M840.3 472.4h0M982.3 489.3h0M931.0 440.3h0M1025.9 532.0h0M875.4 435.9h0M925.0 490.0h0M1034.8 591.1h0M1029.5 536.8h0M868.6 468.6h0M1023.5 481.9h0M1016.5 531.9h0M955.7 480.2h0M1017.0 538.4h0M962.2 522.9h0M882.1 456.7h0M996.0 560.5h0M960.6 504.6h0M1024.5 522.2h0M801.2 432.6h0M921.2 383.7h0M930.8 451.3h0M973.3 530.6h0M882.4 390.8h0M949.1 529.5h0M993.8 519.1h0M913.9 514.4h0M856.8 451.4h0M916.2 505.2h0M913.4 477.2h0M831.2 440.7h0M925.2 465.9h0M822.4 415.7h0M833.8 440.3h0M1058.9 474.5h0M871.1 456.2h0M1047.5 566.0h0M967.3 479.3h0M966.5 522.3h0M1019.4 474.9h0M906.5 484.2h0M948.6 490.1h0M935.7 496.8h0M919.8 497.7h0M840.6 472.4h0M978.5 544.2h0M1057.4 605.2h0M838.9 405.5h0M960.1 520.8h0M1011.6 540.2h0M731.5 399.9h0M806.8 422.3h0M919.1 515.2h0M892.0 499.6h0M871.2 449.6h0M852.1 444.7h0M786.8 417.6h0M960.2 404.7h0M948.9 416.3h0M834.7 446.8h0M806.0 433.2h0M851.2 444.6h0M954.1 497.0h0M862.5 479.3h0M830.2 453.7h0M960.3 477.8h0M875.1 450.1h0M849.6 479.6h0M874.8 473.8h0M841.4 459.0h0M941.6 464.0h0M1026.4 494.2h0M911.1 510.7h0M951.9 466.1h0M904.7 473.9h0M978.5 511.2h0M923.4 517.6h0M889.1 442.7h0M839.5 423.8h0M986.1 527.0h0M995.5 561.4h0M944.0 428.0h0M899.3 499.6h0M917.9 479.7h0M977.4 533.6h0M1029.7 481.5h0M927.1 503.0h0M853.5 471.7h0M983.3 503.6h0M880.1 459.1h0M977.6 473.2h0M905.0 453.0h0M957.8 534.0h0M1022.5 571.8h0M905.5 482.0h0M900.2 454.1h0M896.8 451.7h0M951.3 465.3h0M798.1 395.5h0M840.4 456.7h0M875.2 448.1h0M1029.1 534.2h0M852.4 485.4h0M980.5 545.8h0M787.9 429.8h0M865.5 442.4h0M994.0 492.1h0M876.6 491.9h0M931.6 461.4h0M949.7 374.4h0M915.2 493.9h0M811.3 390.5h0M952.8 486.1h0M916.8 473.4h0M936.4 508.7h0M826.8 462.4h0M917.3 462.3h0M965.7 491.1h0M930.9 509.8h0M870.5 479.8h0M899.8 508.1h0M918.7 369.0h0M928.8 454.8h0M895.2 427.6h0M1017.1 493.9h0M986.4 533.1h0M881.2 498.5h0M928.2 472.7h0M1018.9 471.3h0M1052.5 568.9h0M961.0 535.6h0M839.6 448.4h0M942.0 458.8h0M972.9 505.3h0M977.6 479.9h0M770.1 411.0h0M1048.1 519.5h0M955.2 482.4h0M914.8 516.5h0M809.4 452.8h0M961.0 503.1h0M851.5 471.2h0M1023.6 520.2h0M897.4 412.0h0M800.0 424.5h0M856.0 448.6h0M1027.7 477.2h0M901.4 484.7h0M870.8 422.7h0M866.5 478.8h0M944.6 488.2h0M1025.3 494.6h0M863.2 467.8h0M835.4 457.9h0M909.8 509.4h0M878.1 471.5h0M992.7 551.0h0M884.5 452.4h0M909.2 474.1h0M963.6 501.4h0M807.5 438.1h0M883.0 446.7h0M947.3 487.9h0M852.4 454.5h0M965.8 474.8h0M1031.6 568.8h0M930.4 475.1h0M995.6 472.8h0M1023.6 582.4h0M818.3 428.6h0M808.2 415.3h0M1040.2 504.5h0M1025.3 546.4h0M860.8 410.9h0M978.0 471.9h0M842.5 430.4h0M1051.5 482.6h0M808.4 386.7h0M1035.5 481.5h0M969.6 533.0h0M948.1 522.7h0M894.1 489.7h0M868.5 472.5h0M834.6 427.5h0M902.6 459.5h0M923.7 487.3h0M857.0 486.1h0M951.5 473.4h0M992.1 508.9h0M912.3 509.4h0M911.9 507.4h0M964.0 483.7h0M958.6 517.7h0M1000.7 505.8h0M917.0 419.3h0M968.9 478.8h0M830.8 444.0h0M912.5 479.3h0M866.4 483.6h0M860.3 474.1h0M1018.2 512.3h0M988.3 486.2h0M951.2 433.8h0M996.7 523.7h0M895.9 504.2h0M739.0 400.4h0M906.8 511.9h0M888.8 490.4h0M841.0 393.9h0M970.3 473.7h0M936.6 479.7h0M1038.9 517.2h0M927.1 490.6h0M1060.0 509.2h0M1010.3 523.7h0M1009.8 521.5h0M905.5 461.3h0M930.6 505.5h0M980.9 474.3h0M991.5 482.3h0M954.6 523.0h0M1005.3 521.6h0M899.8 431.5h0M953.7 453.6h0M996.4 541.0h0M990.6 413.0h0M877.4 472.0h0M970.7 534.5h0M991.3 555.1h0M874.9 461.1h0M927.4 482.8h0M954.8 513.6h0M946.7 462.5h0M963.6 413.1h0M992.4 466.8h0M867.0 439.6h0M955.4 474.4h0M1040.6 530.3h0M927.0 486.6h0M1058.7 514.6h0M931.1 452.0h0M929.0 470.7h0M831.7 470.2h0M983.1 396.2h0M993.4 471.8h0M943.6 473.6h0M928.1 517.6h0M796.1 396.4h0M980.2 470.0h0M836.2 464.9h0M991.5 476.4h0M1031.7 518.3h0M942.3 509.2h0M965.8 502.3h0M993.3 424.9h0M980.4 514.8h0M1001.4 474.9h0M973.0 493.1h0M850.0 458.2h0M809.4 408.2h0M979.9 515.6h0M942.4 499.6h0M891.7 462.0h0M924.6 397.6h0M919.4 496.8h0M865.8 433.1h0M883.5 480.4h0M957.5 520.5h0M946.6 484.8h0M1010.2 489.1h0M993.3 555.7h0M962.8 467.6h0M997.1 477.2h0M1002.8 504.5h0M959.8 436.9h0M906.2 467.4h0M869.5 474.5h0M941.6 470.3h0M957.1 510.9h0M825.1 466.3h0M915.5 509.4h0M915.0 438.0h0M1042.0 530.3h0M881.9 448.2h0M978.1 528.9h0M868.5 445.0h0M1002.3 559.5h0M952.3 492.4h0M957.0 487.5h0M924.7 480.8h0M902.5 482.6h0M987.8 492.6h0M1004.7 473.8h0M957.9 475.2h0M1047.0 552.3h0M1029.3 542.6h0M941.6 456.2h0M822.8 450.7h0M828.2 448.2h0M832.7 462.2h0M775.2 401.4h0M954.0 520.5h0M1026.9 488.2h0M811.7 444.6h0M855.2 457.6h0M777.9 398.4h0M837.1 453.0h0M828.4 419.5h0M963.4 466.0h0M928.6 418.3h0M940.1 520.3h0M586.2 275.6h0M626.1 311.0h0M796.7 297.9h0M720.3 306.8h0M733.9 326.6h0M780.4 321.4h0M768.3 332.4h0M693.6 337.1h0M798.5 337.1h0M797.7 340.8h0M761.1 344.1h0M769.5 344.1h0M779.2 343.3h0M775.3 347.5h0M799.3 346.6h0M662.8 344.6h0M720.3 350.0h0M721.6 355.9h0M690.5 358.7h0M693.9 358.7h0M659.0 362.1h0M677.1 364.6h0M709.8 365.1h0M740.1 358.4h0M751.0 366.3h0M759.4 361.7h0M762.7 366.8h0M782.9 359.2h0M785.4 362.6h0M801.4 366.8h0M903.2 324.0h0M902.9 332.0h0M851.6 332.4h0M870.1 331.2h0M883.9 335.7h0M894.0 342.9h0M884.7 348.3h0M853.3 342.8h0M836.4 348.3h0M959.0 333.5h0M959.5 344.5h0M923.9 347.8h0M932.9 350.0h0M833.5 355.5h0M820.9 359.6h0M820.0 362.6h0M863.7 360.9h0M953.2 362.6h0M853.3 366.3h0M873.0 368.5h0M1069.8 535.8h0M1071.8 545.5h0M1076.3 548.7h0M1082.7 553.3h0M1073.0 558.4h0M1079.9 563.9h0M1072.7 567.2h0M1077.3 571.3h0M1069.2 581.0h0M1079.9 582.7h0M1062.1 583.6h0M1067.9 607.5h0M704.5 377.0h0M729.0 397.0h0M736.0 395.0h0M745.0 389.0h0M746.0 376.0h0M752.0 393.0h0M752.0 403.0h0M761.0 380.0h0M761.0 400.0h0M771.0 391.0h0M765.0 404.0h0M772.0 411.0h0M756.0 403.0h0M775.0 369.0h0M777.0 394.0h0" stroke="#ff00ff" stroke-width="6.30" stroke-linecap="round" fill="none"/>
<path d="M1003.3 509.0h0M1033.7 580.7h0M1004.4 566.9h0M780.9 396.3h0M982.0 524.7h0M1050.1 511.0h0M959.0 447.7h0M955.9 444.5h0M908.7 489.8h0M1051.1 555.0h0M1072.5 485.7h0M941.7 469.0h0M863.1 470.1h0M902.1 466.9h0M935.5 457.1h0M815.8 378.6h0M964.1 460.3h0M965.8 469.5h0M928.7 506.9h0M901.4 497.1h0M817.9 382.3h0M942.6 465.6h0M932.0 410.5h0M905.1 444.2h0M831.0 438.8h0M907.0 461.7h0M959.8 385.2h0M934.8 521.6h0M945.9 511.8h0M934.8 426.7h0M878.0 438.0h0M829.8 384.4h0M803.1 374.2h0M850.5 460.7h0M1021.6 519.2h0M899.8 461.1h0M860.6 461.9h0M940.9 403.8h0M942.4 385.1h0M973.5 521.7h0M881.3 484.7h0M901.0 469.5h0M957.2 423.5h0M934.4 407.8h0M1014.4 567.2h0M832.0 444.0h0M831.8 470.3h0M942.9 476.0h0M818.2 389.0h0M1027.3 572.1h0M1026.4 499.8h0M978.7 476.1h0M832.7 409.2h0M801.4 378.4h0M962.0 389.4h0M866.4 439.4h0M843.4 464.3h0M979.5 483.9h0M971.8 518.2h0M892.2 441.6h0M963.8 471.3h0M843.0 472.0h0M1023.3 571.5h0M952.3 411.5h0M797.0 398.3h0M938.2 494.1h0M848.4 466.3h0M928.0 470.6h0M1045.2 466.6h0M857.6 438.0h0M928.6 484.4h0M843.6 476.5h0M922.9 514.2h0M912.9 474.2h0M928.1 444.4h0M873.6 472.1h0M937.9 411.9h0M888.4 483.0h0M934.2 485.8h0M893.3 438.9h0M918.3 420.4h0M827.6 391.4h0M888.4 441.9h0M906.6 476.5h0M1042.5 477.1h0M891.7 476.8h0M875.9 416.4h0M805.8 435.5h0M992.4 540.8h0M842.1 383.7h0M882.2 388.6h0M912.5 511.3h0M837.0 455.1h0M1044.1 546.5h0M1014.7 497.1h0M945.3 465.8h0M851.3 451.9h0M917.7 462.2h0M1032.3 454.1h0M897.9 470.8h0M864.0 490.3h0M1052.8 525.2h0M898.2 467.6h0M933.7 476.1h0M847.0 423.8h0M1032.5 495.8h0M904.8 440.9h0M795.8 415.8h0M910.1 403.9h0M821.0 384.1h0M829.1 444.1h0M947.7 425.4h0M977.3 391.2h0M800.5 441.0h0M869.3 464.0h0M902.4 478.5h0M966.4 423.5h0M1011.6 517.0h0M916.4 481.0h0M1017.2 523.7h0M915.2 451.1h0M909.6 469.2h0M1041.5 576.3h0M931.1 404.8h0M936.2 433.2h0M1016.6 491.1h0M976.9 494.0h0M1031.3 503.1h0M989.6 505.9h0M931.6 373.1h0M846.5 460.6h0M928.3 477.3h0M868.5 444.7h0M954.2 485.3h0M1029.6 546.8h0M1046.9 491.2h0M916.9 474.5h0M833.3 396.3h0M955.9 396.0h0M887.4 457.7h0M972.8 410.5h0M803.4 437.0h0M833.8 463.1h0M863.5 394.8h0M1012.3 430.7h0M777.0 420.3h0M1002.9 474.5h0M806.5 384.1h0M1058.2 476.8h0M879.3 471.5h0M1040.2 596.8h0M879.3 435.6h0M869.6 391.1h0M872.3 428.1h0M961.5 449.4h0M865.1 471.0h0M629.0 338.2h0M671.6 306.8h0M814.3 306.8h0M766.4 324.8h0M806.4 328.7h0M629.2 338.2h0M731.2 341.3h0M792.6 351.7h0M636.0 344.4h0M641.0 349.2h0M651.0 350.8h0M712.0 353.7h0M761.9 359.6h0M814.3 364.3h0M967.0 275.8h0M905.9 303.5h0M989.7 308.0h0M993.9 318.9h0M888.1 345.0h0M859.0 342.8h0M975.4 360.1h0M904.0 354.7h0M874.7 354.2h0M855.7 355.0h0M830.2 356.7h0M831.0 360.1h0M1067.0 557.4h0M1095.9 565.1h0M1078.2 599.8h0M1038.8 582.3h0M707.5 386.0h0M736.0 383.5h0M740.0 376.0h0M741.0 390.5h0M741.5 397.5h0M754.0 381.0h0M761.0 392.0h0" stroke="#008000" stroke-width="6.30" stroke-linecap="round" fill="none"/>
<path d="M796.3 439.4h0M850.4 440.3h0M815.3 418.3h0M807.7 442.7h0M923.3 387.7h0M954.0 444.6h0M848.0 459.6h0M808.8 394.2h0M874.4 469.9h0M821.6 401.6h0M961.8 465.8h0M806.5 437.6h0M811.5 380.5h0M944.6 408.6h0M959.6 441.5h0M982.2 464.1h0M956.5 448.0h0M883.4 426.5h0M842.7 387.6h0M881.8 476.2h0M974.9 516.4h0M936.9 441.7h0M1064.3 500.4h0M1069.0 483.8h0M892.1 415.8h0M766.9 385.6h0M864.4 453.6h0M882.4 455.3h0M842.3 370.1h0M825.5 448.5h0M1024.8 575.2h0M901.4 425.2h0M868.6 432.9h0M862.4 417.7h0M787.4 386.3h0M804.9 394.2h0M835.0 447.1h0M773.7 423.7h0M895.8 455.2h0M922.5 373.9h0M1072.7 502.9h0M801.4 424.7h0M948.4 436.6h0M879.9 396.6h0M928.1 438.0h0M887.4 455.2h0M846.2 461.9h0M991.4 541.1h0M977.9 390.1h0M1033.0 571.1h0M982.7 395.1h0M863.7 483.3h0M964.9 373.8h0M898.3 487.7h0M939.4 373.4h0M987.7 392.3h0M807.2 450.4h0M876.5 412.4h0M880.1 413.8h0M978.3 538.2h0M792.4 388.4h0M852.1 376.1h0M1007.7 450.0h0M803.8 417.9h0M755.2 380.9h0M1034.8 565.5h0M833.6 434.3h0M831.5 397.6h0M898.9 463.0h0M863.6 403.3h0M852.4 445.6h0M815.9 405.7h0M1015.8 442.4h0M1042.1 501.8h0M567.4 256.8h0M482.1 281.1h0M500.9 283.7h0M542.5 300.5h0M586.2 317.2h0M566.0 327.3h0M599.6 322.3h0M601.6 337.1h0M702.6 285.0h0M794.6 285.0h0M660.0 311.5h0M655.3 321.6h0M728.8 324.0h0M650.6 331.0h0M658.6 333.7h0M686.3 332.0h0M811.1 341.3h0M782.9 350.3h0M745.6 345.3h0M657.8 354.2h0M664.0 353.4h0M675.8 357.0h0M667.9 366.8h0M735.0 365.1h0M815.6 357.5h0M983.0 289.2h0M852.0 289.9h0M826.3 297.3h0M845.8 304.8h0M989.3 313.9h0M993.9 322.0h0M997.2 328.2h0M918.3 313.4h0M923.0 317.6h0M938.5 323.1h0M874.3 330.2h0M885.6 329.5h0M884.7 339.6h0M844.4 351.2h0M845.0 353.9h0M957.0 340.8h0M973.2 350.3h0M933.4 361.4h0M916.6 369.3h0M1060.8 531.9h0M693.0 376.0h0M739.5 372.0h0M746.5 380.0h0M747.0 384.0h0M759.0 375.0h0M760.0 372.0h0M763.0 386.0h0M765.5 391.0h0M775.0 399.0h0M773.0 406.0h0M761.5 413.0h0M778.0 374.0h0M778.0 378.0h0" stroke="#ffa500" stroke-width="6.30" stroke-linecap="round" fill="none"/>
<polyline points="142.3,77.2 834.2,65.5 857.5,98.3 915.2,77.3 1000.3,180.0 1000.2,338.0 978.6,361.0 1019.0,435.8 1077.5,489.0 1074.0,514.0 1102.0,566.0 1107.2,576.0 1107.2,625.0 1133.0,648.5 1144.0,660.3 1112.8,647.6 1067.3,616.3 973.6,541.0 854.6,486.0 753.8,408.5 689.2,382.7 637.5,360.7 570.7,331.3 428.7,268.0 327.0,225.6 177.3,146.0 152.6,105.0 142.3,77.2" fill="none" stroke="#000" stroke-width="5.9" stroke-dasharray="21.87 9.46" stroke-dashoffset="0" stroke-linejoin="round" stroke-linecap="butt"/>
<rect x="92.2" y="34.55" width="1101.3" height="656.7" fill="none" stroke="#000" stroke-width="1.6"/>
<line x1="106.45" y1="691.2" x2="106.45" y2="698.2" stroke="#000" stroke-width="1.6"/>
<text x="106.45" y="721" font-size="20" text-anchor="middle">4.8</text>
<line x1="249.51" y1="691.2" x2="249.51" y2="698.2" stroke="#000" stroke-width="1.6"/>
<text x="249.51" y="721" font-size="20" text-anchor="middle">4.6</text>
<line x1="392.57" y1="691.2" x2="392.57" y2="698.2" stroke="#000" stroke-width="1.6"/>
<text x="392.57" y="721" font-size="20" text-anchor="middle">4.4</text>
<line x1="535.63" y1="691.2" x2="535.63" y2="698.2" stroke="#000" stroke-width="1.6"/>
<text x="535.63" y="721" font-size="20" text-anchor="middle">4.2</text>
<line x1="678.69" y1="691.2" x2="678.69" y2="698.2" stroke="#000" stroke-width="1.6"/>
<text x="678.69" y="721" font-size="20" text-anchor="middle">4.0</text>
<line x1="821.75" y1="691.2" x2="821.75" y2="698.2" stroke="#000" stroke-width="1.6"/>
<text x="821.75" y="721" font-size="20" text-anchor="middle">3.8</text>
<line x1="964.81" y1="691.2" x2="964.81" y2="698.2" stroke="#000" stroke-width="1.6"/>
<text x="964.81" y="721" font-size="20" text-anchor="middle">3.6</text>
<line x1="1107.87" y1="691.2" x2="1107.87" y2="698.2" stroke="#000" stroke-width="1.6"/>
<text x="1107.87" y="721" font-size="20" text-anchor="middle">3.4</text>
<line x1="85.2" y1="580.64" x2="92.2" y2="580.64" stroke="#000" stroke-width="1.6"/>
<text x="78.4" y="588.24" font-size="20" text-anchor="end">−2</text>
<line x1="85.2" y1="466.30" x2="92.2" y2="466.30" stroke="#000" stroke-width="1.6"/>
<text x="78.4" y="473.90" font-size="20" text-anchor="end">0</text>
<line x1="85.2" y1="351.96" x2="92.2" y2="351.96" stroke="#000" stroke-width="1.6"/>
<text x="78.4" y="359.56" font-size="20" text-anchor="end">2</text>
<line x1="85.2" y1="237.62" x2="92.2" y2="237.62" stroke="#000" stroke-width="1.6"/>
<text x="78.4" y="245.22" font-size="20" text-anchor="end">4</text>
<line x1="85.2" y1="123.28" x2="92.2" y2="123.28" stroke="#000" stroke-width="1.6"/>
<text x="78.4" y="130.88" font-size="20" text-anchor="end">6</text>
<text x="643.05" y="22.7" font-size="23.7" text-anchor="middle">H-R Diagram for Solar Metallicity PARSEC Tracks</text>
<text x="558.5" y="761.4" font-size="35.7">log(<tspan font-style="italic">T</tspan><tspan font-size="24.3" dy="3.4">eff</tspan><tspan dy="-3.4">/K)</tspan></text>
<text transform="translate(32.4,439.6) rotate(-90)" font-size="35.7">log(<tspan font-style="italic">L</tspan>/<tspan font-style="italic">L</tspan><tspan font-size="24.5" dy="5">⊙</tspan><tspan dy="-5">)</tspan></text>
<rect x="107.8" y="430.3" width="370.5" height="245.05" rx="5.5" ry="5.5" fill="#fff" fill-opacity="0.8" stroke="#d6d6d6" stroke-width="2"/>
<circle cx="152.6" cy="459.2" r="3.15" fill="#0000ff"/>
<text x="209.6" y="468.7" font-size="31.4">Class III</text>
<circle cx="152.6" cy="506.3" r="3.15" fill="#ff00ff"/>
<text x="209.6" y="515.8" font-size="31.4">Class II</text>
<circle cx="152.6" cy="553.3" r="3.15" fill="#008000"/>
<text x="209.6" y="562.8" font-size="31.4">Flat</text>
<circle cx="152.6" cy="600.3" r="3.15" fill="#ffa500"/>
<text x="209.6" y="609.8" font-size="31.4">Class I</text>
<line x1="120.8" y1="645.1" x2="184.8" y2="645.1" stroke="#000" stroke-width="5.9" stroke-dasharray="21.87 9.46"/>
<text x="209.6" y="656.2" font-size="31.4">Defined Polygon</text></svg></body></html>
